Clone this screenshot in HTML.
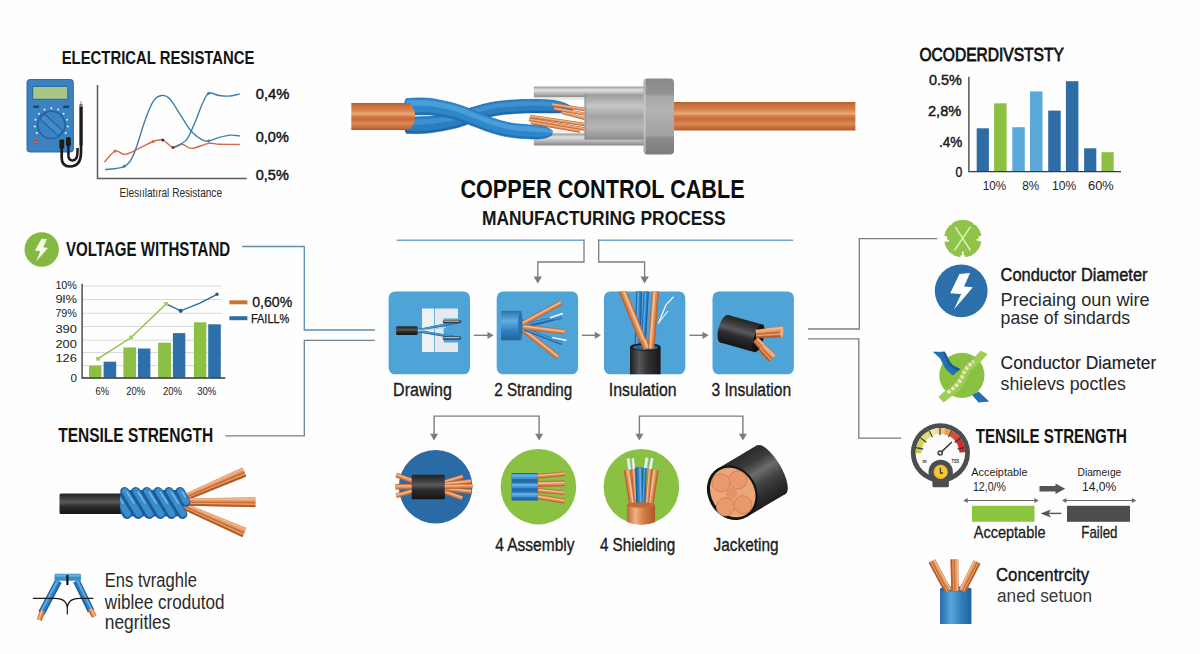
<!DOCTYPE html>
<html lang="en"><head><meta charset="utf-8"><title>Copper Control Cable Manufacturing Process</title>
<style>
html,body{margin:0;padding:0;background:#fefefe;}
body{width:1200px;height:654px;overflow:hidden;font-family:"Liberation Sans", sans-serif;}
svg{display:block;font-family:"Liberation Sans", sans-serif;}
</style></head><body>
<svg width="1200" height="654" viewBox="0 0 1200 654">
<rect width="1200" height="654" fill="#fefefe"/>
<defs>
<linearGradient id="cuV" x1="0" y1="0" x2="0" y2="1">
 <stop offset="0" stop-color="#b25e2e"/><stop offset="0.1" stop-color="#c9713f"/><stop offset="0.28" stop-color="#da834e"/>
 <stop offset="0.4" stop-color="#eca87b"/><stop offset="0.5" stop-color="#d57d48"/><stop offset="0.6" stop-color="#c56b39"/>
 <stop offset="0.76" stop-color="#dc8955"/><stop offset="0.9" stop-color="#c76d3a"/><stop offset="1" stop-color="#b05a2b"/>
</linearGradient>
<linearGradient id="cuH" x1="0" y1="0" x2="1" y2="0">
 <stop offset="0" stop-color="#b86a38"/><stop offset="0.3" stop-color="#f0b084"/>
 <stop offset="0.6" stop-color="#d47c45"/><stop offset="1" stop-color="#a9562a"/>
</linearGradient>
<linearGradient id="gySleeve" x1="0" y1="0" x2="0" y2="1">
 <stop offset="0" stop-color="#9b9b9b"/><stop offset="0.3" stop-color="#e2e2e2"/>
 <stop offset="0.65" stop-color="#b4b4b4"/><stop offset="1" stop-color="#868686"/>
</linearGradient>
<linearGradient id="gyBody" x1="0" y1="0" x2="0" y2="1">
 <stop offset="0" stop-color="#9c9c9c"/><stop offset="0.25" stop-color="#c6c6c6"/>
 <stop offset="0.48" stop-color="#a4a4a4"/><stop offset="0.72" stop-color="#b6b6b6"/><stop offset="1" stop-color="#8c8c8c"/>
</linearGradient>
<linearGradient id="gyFl" x1="0" y1="0" x2="0" y2="1">
 <stop offset="0" stop-color="#8a8a8a"/><stop offset="0.2" stop-color="#929292"/>
 <stop offset="0.23" stop-color="#a6a6a6"/><stop offset="0.4" stop-color="#b2b2b2"/><stop offset="0.74" stop-color="#a2a2a2"/>
 <stop offset="0.78" stop-color="#8c8c8c"/><stop offset="1" stop-color="#7c7c7c"/>
</linearGradient>
<linearGradient id="bkV" x1="0" y1="0" x2="0" y2="1">
 <stop offset="0" stop-color="#242424"/><stop offset="0.22" stop-color="#3a3a3c"/><stop offset="0.42" stop-color="#5a5a5c"/>
 <stop offset="0.62" stop-color="#2c2c2e"/><stop offset="1" stop-color="#151515"/>
</linearGradient>
<linearGradient id="bkH" x1="0" y1="0" x2="1" y2="0">
 <stop offset="0" stop-color="#1c1c1e"/><stop offset="0.3" stop-color="#58585a"/>
 <stop offset="0.6" stop-color="#303032"/><stop offset="1" stop-color="#18181a"/>
</linearGradient>
<linearGradient id="blH" x1="0" y1="0" x2="1" y2="0">
 <stop offset="0" stop-color="#246aa8"/><stop offset="0.35" stop-color="#5aa6da"/>
 <stop offset="0.7" stop-color="#2f7cbc"/><stop offset="1" stop-color="#22629c"/>
</linearGradient>
<linearGradient id="blV" x1="0" y1="0" x2="0" y2="1">
 <stop offset="0" stop-color="#2a72b2"/><stop offset="0.35" stop-color="#62ade0"/>
 <stop offset="0.7" stop-color="#2f7cbc"/><stop offset="1" stop-color="#22629c"/>
</linearGradient>
<linearGradient id="bkJ" x1="0" y1="0" x2="0" y2="1">
 <stop offset="0" stop-color="#2a2a2c"/><stop offset="0.22" stop-color="#3c3c3e"/><stop offset="0.42" stop-color="#6c6c6e"/>
 <stop offset="0.62" stop-color="#424244"/><stop offset="0.85" stop-color="#2a2a2c"/><stop offset="1" stop-color="#1e1e20"/>
</linearGradient>
<clipPath id="clipCoil"><rect x="120.3" y="480" width="70" height="50"/></clipPath>
<clipPath id="clipC3"><circle cx="641.2" cy="487.1" r="37.7"/></clipPath>
<clipPath id="clipS3"><rect x="603.9" y="291.4" width="82" height="82.9" rx="6"/></clipPath>
</defs>
<text x="61.7" y="63.6" font-size="18.4" font-weight="700" fill="#141414" text-anchor="start" textLength="192.7" lengthAdjust="spacingAndGlyphs">ELECTRICAL RESISTANCE</text>
<g>
<rect x="26.5" y="79" width="47.4" height="73.5" rx="4" fill="#2f6fab"/>
<rect x="27.6" y="80.1" width="45.2" height="71.3" rx="3.2" fill="#3c82c0"/>
<rect x="32.6" y="86.4" width="35.2" height="13" rx="0.8" fill="#a8c684" stroke="#2f6fa3" stroke-width="1.2"/>
<rect x="33.2" y="105.6" width="6" height="2.4" fill="#1c466e"/><rect x="63.2" y="105.6" width="6" height="2.4" fill="#1c466e"/>
<circle cx="36.9" cy="133.1" r="1.0" fill="#e8f2fa"/>
<circle cx="34.8" cy="126.5" r="1.0" fill="#e8f2fa"/>
<circle cx="35.5" cy="119.7" r="1.0" fill="#e8f2fa"/>
<circle cx="39.0" cy="113.7" r="1.0" fill="#e8f2fa"/>
<circle cx="44.5" cy="109.6" r="1.0" fill="#e8f2fa"/>
<circle cx="51.3" cy="108.2" r="1.0" fill="#e8f2fa"/>
<circle cx="58.1" cy="109.6" r="1.0" fill="#e8f2fa"/>
<circle cx="63.6" cy="113.7" r="1.0" fill="#e8f2fa"/>
<circle cx="67.1" cy="119.7" r="1.0" fill="#e8f2fa"/>
<circle cx="67.8" cy="126.5" r="1.0" fill="#e8f2fa"/>
<circle cx="65.7" cy="133.1" r="1.0" fill="#e8f2fa"/>
<circle cx="51.3" cy="124.8" r="14.4" fill="#24609b"/>
<circle cx="51.3" cy="124.8" r="12.9" fill="#3a84c4"/>
<rect x="38.6" y="121.4" width="25.4" height="6.8" rx="2" fill="#3f8bcb" stroke="#24609b" stroke-width="1.1" transform="rotate(43 51.3 124.8)"/>
<circle cx="35.3" cy="142" r="2" fill="#b5403a"/><circle cx="35.3" cy="142" r="0.9" fill="#e58a80"/>
<path d="M61.7,143 V158 Q61.7,166.5 70,166.5 Q81,166.5 81,152 V104" fill="none" stroke="#1b1b1b" stroke-width="2.7"/>
<path d="M68.4,141 V155 Q68.4,160.5 72.5,160.5 Q77.5,160.5 77.5,152 V148" fill="none" stroke="#1b1b1b" stroke-width="2.5"/>
<rect x="59.4" y="139.5" width="4.8" height="9" rx="1.2" fill="#1b1b1b"/><rect x="66" y="137.3" width="4.8" height="8.6" rx="1.2" fill="#1b1b1b"/>
<rect x="79.6" y="106" width="3" height="40" rx="1.2" fill="#1b1b1b"/><rect x="80.4" y="101" width="1.3" height="6" fill="#c8a28a"/>
</g>
<path d="M97.5,85 V178.6 H246.7" fill="none" stroke="#5a5a5a" stroke-width="1.5"/>
<path d="M104.4,162.1 C106.2,160.3 111.8,152.4 115.1,151.1 C118.4,149.8 121.1,154.4 124.2,154.4 C127.3,154.4 129.1,153.2 133.9,151.1 C138.7,148.9 148.3,143.3 153.1,141.5 C157.9,139.7 159.5,139.1 162.8,140.1 C166.1,141.1 169.8,146.8 173.0,147.5 C176.2,148.2 178.9,144.0 182.0,144.2 C185.1,144.3 187.2,148.5 191.7,148.4 C196.1,148.3 204.1,144.1 208.7,143.4 C213.3,142.7 214.0,144.0 219.2,144.2 C224.4,144.4 236.4,144.4 239.8,144.5" fill="none" stroke="#cf6a4c" stroke-width="1.4"/>
<path d="M105.0,169.6 C108.2,169.1 119.4,168.9 124.2,166.3 C129.0,163.7 130.5,161.5 133.9,153.9 C137.3,146.3 141.7,129.5 144.9,120.8 C148.1,112.1 150.3,105.8 153.1,101.6 C155.8,97.4 158.6,96.0 161.4,95.5 C164.2,95.0 166.5,95.5 169.7,98.8 C172.9,102.1 177.0,109.8 180.7,115.3 C184.4,120.8 188.0,127.7 191.7,131.8 C195.4,135.9 199.9,138.6 202.7,140.1 C205.5,141.6 205.9,141.3 208.7,140.9 C211.4,140.5 215.6,138.4 219.2,137.4 C222.8,136.4 226.8,135.3 230.2,135.1 C233.6,134.9 238.2,135.8 239.8,136.0" fill="none" stroke="#3f7fa8" stroke-width="1.4"/>
<path d="M173.0,147.5 C175.2,146.3 182.6,144.1 186.2,140.1 C189.8,136.1 191.7,129.8 194.4,123.6 C197.2,117.4 200.3,108.0 202.7,103.0 C205.1,98.0 205.9,94.5 208.7,93.3 C211.4,92.0 215.6,95.0 219.2,95.5 C222.8,96.0 226.8,96.3 230.2,96.0 C233.6,95.7 238.2,94.2 239.8,93.9" fill="none" stroke="#3f7fa8" stroke-width="1.4"/>
<circle cx="208.7" cy="93.3" r="1.5" fill="#3f7fa8"/>
<circle cx="208.7" cy="140.9" r="1.5" fill="#3f7fa8"/>
<circle cx="124.2" cy="166.3" r="1.5" fill="#3f7fa8"/>
<circle cx="115.1" cy="151.1" r="1.5" fill="#cf6a4c"/>
<circle cx="153.1" cy="141.5" r="1.5" fill="#cf6a4c"/>
<circle cx="173" cy="147.5" r="1.5" fill="#7a3a2a"/>
<circle cx="162.8" cy="140.1" r="1.5" fill="#3a2a2a"/>
<text x="255.8" y="98.8" font-size="14.2" font-weight="400" fill="#141414" text-anchor="start" textLength="33.6" lengthAdjust="spacingAndGlyphs" stroke="#141414" stroke-width="0.45">0,4%</text>
<text x="255.8" y="141.5" font-size="14.2" font-weight="400" fill="#141414" text-anchor="start" textLength="33.0" lengthAdjust="spacingAndGlyphs" stroke="#141414" stroke-width="0.45">0,0%</text>
<text x="255.8" y="180.0" font-size="14.2" font-weight="400" fill="#141414" text-anchor="start" textLength="33.0" lengthAdjust="spacingAndGlyphs" stroke="#141414" stroke-width="0.45">0,5%</text>
<text x="119.5" y="197.0" font-size="12.6" font-weight="400" fill="#2a2a2a" text-anchor="start" textLength="102.5" lengthAdjust="spacingAndGlyphs">Elesıılatıral Resistance</text>
<circle cx="41.7" cy="249.5" r="17.2" fill="#85b843"/>
<path d="M46.9,239.1 L41.5,238.8 L34.9,250.5 L40.2,251.2 L36.2,261.6 L47.9,247.9 L43.2,247.2 Z" fill="#f4fbe6"/>
<text x="65.9" y="255.5" font-size="19.3" font-weight="700" fill="#141414" text-anchor="start" textLength="164.3" lengthAdjust="spacingAndGlyphs">VOLTAGE WITHSTAND</text>
<line x1="82.1" y1="286" x2="222" y2="286" stroke="#d9d9d9" stroke-width="1"/>
<line x1="82.1" y1="299.5" x2="222" y2="299.5" stroke="#d9d9d9" stroke-width="1"/>
<line x1="82.1" y1="313.3" x2="222" y2="313.3" stroke="#d9d9d9" stroke-width="1"/>
<line x1="82.1" y1="326.5" x2="222" y2="326.5" stroke="#d9d9d9" stroke-width="1"/>
<line x1="82.1" y1="340.2" x2="222" y2="340.2" stroke="#d9d9d9" stroke-width="1"/>
<line x1="82.1" y1="352.6" x2="222" y2="352.6" stroke="#d9d9d9" stroke-width="1"/>
<line x1="82.1" y1="365.6" x2="222" y2="365.6" stroke="#d9d9d9" stroke-width="1"/>
<rect x="89" y="365.6" width="12.4" height="12.0" fill="#8bc045"/>
<rect x="103.6" y="361.7" width="12.6" height="15.9" fill="#2e6fa9"/>
<rect x="123.4" y="347.4" width="12.7" height="30.2" fill="#8bc045"/>
<rect x="138" y="348.5" width="12.4" height="29.1" fill="#2e6fa9"/>
<rect x="158.1" y="342.7" width="12.9" height="34.9" fill="#8bc045"/>
<rect x="172.9" y="333.1" width="12.4" height="44.5" fill="#2e6fa9"/>
<rect x="193.9" y="322.3" width="12.4" height="55.3" fill="#8bc045"/>
<rect x="208.2" y="324.3" width="12.6" height="53.3" fill="#2e6fa9"/>
<path d="M82.1,283.8 V378 H225.3" fill="none" stroke="#333" stroke-width="1.3"/>
<polyline points="98.1,358.7 131.1,337.5 166.1,303.9" fill="none" stroke="#8bc045" stroke-width="1.4" />
<polyline points="166.1,303.9 180.7,310.8 199.9,303.1 217.0,294.3" fill="none" stroke="#2a68a3" stroke-width="1.4" />
<rect x="96.19999999999999" y="356.8" width="3.8" height="3.8" fill="#9fcf58"/>
<rect x="129.2" y="335.6" width="3.8" height="3.8" fill="#9fcf58"/>
<rect x="164.2" y="302.0" width="3.8" height="3.8" fill="#9fcf58"/>
<circle cx="180.7" cy="310.8" r="2.1" fill="#1f5d99"/><circle cx="217" cy="294.3" r="1.7" fill="#1f5d99"/>
<text x="76.9" y="289.3" font-size="11.6" font-weight="400" fill="#222" text-anchor="end" textLength="21.5" lengthAdjust="spacingAndGlyphs">10%</text>
<text x="76.9" y="303.2" font-size="11.6" font-weight="400" fill="#222" text-anchor="end" textLength="21.5" lengthAdjust="spacingAndGlyphs">9l%</text>
<text x="76.9" y="317.4" font-size="11.6" font-weight="400" fill="#222" text-anchor="end" textLength="21.5" lengthAdjust="spacingAndGlyphs">79%</text>
<text x="76.9" y="332.8" font-size="11.6" font-weight="400" fill="#222" text-anchor="end" textLength="21.5" lengthAdjust="spacingAndGlyphs">390</text>
<text x="76.9" y="347.6" font-size="11.6" font-weight="400" fill="#222" text-anchor="end" textLength="21.5" lengthAdjust="spacingAndGlyphs">200</text>
<text x="76.9" y="362.2" font-size="11.6" font-weight="400" fill="#222" text-anchor="end" textLength="21.5" lengthAdjust="spacingAndGlyphs">126</text>
<text x="76.9" y="381.6" font-size="11.6" font-weight="400" fill="#222" text-anchor="end">0</text>
<text x="102.2" y="394.5" font-size="11.6" font-weight="400" fill="#222" text-anchor="middle" textLength="13.5" lengthAdjust="spacingAndGlyphs">6%</text>
<text x="135.8" y="394.5" font-size="11.6" font-weight="400" fill="#222" text-anchor="middle" textLength="19.0" lengthAdjust="spacingAndGlyphs">20%</text>
<text x="172.4" y="394.5" font-size="11.6" font-weight="400" fill="#222" text-anchor="middle" textLength="19.0" lengthAdjust="spacingAndGlyphs">20%</text>
<text x="206.8" y="394.5" font-size="11.6" font-weight="400" fill="#222" text-anchor="middle" textLength="19.0" lengthAdjust="spacingAndGlyphs">30%</text>
<rect x="229.4" y="300.3" width="18" height="4" fill="#c87439"/>
<rect x="229.4" y="316.2" width="18" height="4" fill="#2e6fa9"/>
<text x="252.2" y="307.2" font-size="14.6" font-weight="400" fill="#141414" text-anchor="start" textLength="40.0" lengthAdjust="spacingAndGlyphs" stroke="#141414" stroke-width="0.3">0,60%</text>
<text x="250.9" y="323.2" font-size="12.8" font-weight="400" fill="#141414" text-anchor="start" textLength="38.5" lengthAdjust="spacingAndGlyphs" stroke="#141414" stroke-width="0.25">FAILL%</text>
<path d="M242.2,246.5 H304.3 V330 H373.5" fill="none" stroke="#5c8fb3" stroke-width="1.3"/>
<path d="M225.3,435.8 H304.3 V340.4 H373.5" fill="none" stroke="#6a8396" stroke-width="1.3"/>
<text x="58.2" y="442.2" font-size="19.3" font-weight="700" fill="#141414" text-anchor="start" textLength="154.9" lengthAdjust="spacingAndGlyphs">TENSILE STRENGTH</text>
<path d="M178.7,496.5 L242.4,467.4 L246.4,476.6 L181.3,502.5 Z" fill="#d9824a"/>
<line x1="181.7" y1="496.4" x2="243.1" y2="469.0" stroke="#f1b58c" stroke-width="2.2"/>
<line x1="182.2" y1="497.6" x2="243.9" y2="470.8" stroke="#e99c69" stroke-width="2.0"/>
<line x1="182.7" y1="498.7" x2="244.6" y2="472.5" stroke="#c56e38" stroke-width="2.0"/>
<line x1="183.2" y1="499.8" x2="245.3" y2="474.1" stroke="#eaa06e" stroke-width="1.8"/>
<line x1="183.6" y1="500.7" x2="245.9" y2="475.5" stroke="#b15d2b" stroke-width="2.0"/>
<path d="M181.3,501.5 L246.4,528.0 L242.4,537.2 L178.7,507.5 Z" fill="#d9824a"/>
<line x1="183.4" y1="503.7" x2="245.7" y2="529.6" stroke="#f1b58c" stroke-width="2.2"/>
<line x1="182.9" y1="504.8" x2="244.9" y2="531.4" stroke="#e99c69" stroke-width="2.0"/>
<line x1="182.4" y1="506.0" x2="244.2" y2="533.1" stroke="#c56e38" stroke-width="2.0"/>
<line x1="182.0" y1="507.0" x2="243.5" y2="534.7" stroke="#eaa06e" stroke-width="1.8"/>
<line x1="181.6" y1="507.9" x2="242.9" y2="536.1" stroke="#b15d2b" stroke-width="2.0"/>
<path d="M180.0,498.5 L255.4,497.2 L255.4,507.2 L180.0,505.5 Z" fill="#d9824a"/>
<line x1="183.0" y1="499.7" x2="255.4" y2="499.0" stroke="#f1b58c" stroke-width="2.2"/>
<line x1="183.0" y1="501.0" x2="255.4" y2="500.9" stroke="#e99c69" stroke-width="2.0"/>
<line x1="183.0" y1="502.4" x2="255.4" y2="502.7" stroke="#c56e38" stroke-width="2.0"/>
<line x1="183.0" y1="503.6" x2="255.4" y2="504.4" stroke="#eaa06e" stroke-width="1.8"/>
<line x1="183.0" y1="504.7" x2="255.4" y2="506.0" stroke="#b15d2b" stroke-width="2.0"/>
<rect x="59.5" y="493.4" width="66" height="20.6" rx="1.5" fill="url(#bkV)"/>
<g clip-path="url(#clipCoil)">
<rect x="121" y="490" width="62" height="26.5" rx="6" fill="#1f64a2"/>
<line x1="113.5" y1="491.8" x2="127.1" y2="514.2" stroke="#1c5c98" stroke-width="9.6" stroke-linecap="round"/>
<line x1="114.0" y1="491.4" x2="127.6" y2="513.8000000000001" stroke="#3a8cca" stroke-width="6.6" stroke-linecap="round"/>
<line x1="115.9" y1="492" x2="122.7" y2="503.1" stroke="#79bdea" stroke-width="1.6" stroke-linecap="round" opacity="0.9"/>
<line x1="124.6" y1="491.8" x2="138.2" y2="514.2" stroke="#1c5c98" stroke-width="9.6" stroke-linecap="round"/>
<line x1="125.1" y1="491.4" x2="138.7" y2="513.8000000000001" stroke="#3a8cca" stroke-width="6.6" stroke-linecap="round"/>
<line x1="127.0" y1="492" x2="133.8" y2="503.1" stroke="#79bdea" stroke-width="1.6" stroke-linecap="round" opacity="0.9"/>
<line x1="135.7" y1="491.8" x2="149.3" y2="514.2" stroke="#1c5c98" stroke-width="9.6" stroke-linecap="round"/>
<line x1="136.2" y1="491.4" x2="149.8" y2="513.8000000000001" stroke="#3a8cca" stroke-width="6.6" stroke-linecap="round"/>
<line x1="138.1" y1="492" x2="144.9" y2="503.1" stroke="#79bdea" stroke-width="1.6" stroke-linecap="round" opacity="0.9"/>
<line x1="146.8" y1="491.8" x2="160.4" y2="514.2" stroke="#1c5c98" stroke-width="9.6" stroke-linecap="round"/>
<line x1="147.3" y1="491.4" x2="160.9" y2="513.8000000000001" stroke="#3a8cca" stroke-width="6.6" stroke-linecap="round"/>
<line x1="149.2" y1="492" x2="156.0" y2="503.1" stroke="#79bdea" stroke-width="1.6" stroke-linecap="round" opacity="0.9"/>
<line x1="157.9" y1="491.8" x2="171.5" y2="514.2" stroke="#1c5c98" stroke-width="9.6" stroke-linecap="round"/>
<line x1="158.4" y1="491.4" x2="172.0" y2="513.8000000000001" stroke="#3a8cca" stroke-width="6.6" stroke-linecap="round"/>
<line x1="160.3" y1="492" x2="167.1" y2="503.1" stroke="#79bdea" stroke-width="1.6" stroke-linecap="round" opacity="0.9"/>
<line x1="169.0" y1="491.8" x2="182.6" y2="514.2" stroke="#1c5c98" stroke-width="9.6" stroke-linecap="round"/>
<line x1="169.5" y1="491.4" x2="183.1" y2="513.8000000000001" stroke="#3a8cca" stroke-width="6.6" stroke-linecap="round"/>
<line x1="171.4" y1="492" x2="178.2" y2="503.1" stroke="#79bdea" stroke-width="1.6" stroke-linecap="round" opacity="0.9"/>
<line x1="180.1" y1="491.8" x2="185.6" y2="502" stroke="#1c5c98" stroke-width="9.6" stroke-linecap="round"/>
<line x1="180.6" y1="491.4" x2="186.1" y2="501.6" stroke="#3a8cca" stroke-width="6.6" stroke-linecap="round"/>
<line x1="182.5" y1="492" x2="185.2" y2="497.0" stroke="#79bdea" stroke-width="1.6" stroke-linecap="round" opacity="0.9"/>
</g>
<line x1="58.5" y1="581.0" x2="41.5" y2="613.0" stroke="#1c5f9f" stroke-width="7.0" stroke-linecap="butt"/>
<line x1="58.2" y1="580.8" x2="41.2" y2="612.8" stroke="#2f80c4" stroke-width="4.6" stroke-linecap="butt"/>
<line x1="57.6" y1="580.5" x2="40.6" y2="612.5" stroke="#62aee2" stroke-width="1.7" stroke-linecap="butt"/>
<line x1="76.5" y1="581.0" x2="91.0" y2="611.0" stroke="#1c5f9f" stroke-width="7.0" stroke-linecap="butt"/>
<line x1="76.9" y1="580.8" x2="91.4" y2="610.8" stroke="#2f80c4" stroke-width="4.6" stroke-linecap="butt"/>
<line x1="77.4" y1="580.6" x2="91.9" y2="610.6" stroke="#62aee2" stroke-width="1.7" stroke-linecap="butt"/>
<line x1="42.6" y1="611.0" x2="39.3" y2="620.0" stroke="#ba6633" stroke-width="5.2" stroke-linecap="butt"/>
<line x1="42.3" y1="610.9" x2="39.0" y2="619.9" stroke="#df8c57" stroke-width="3.4" stroke-linecap="butt"/>
<line x1="41.9" y1="610.7" x2="38.6" y2="619.7" stroke="#f5c09a" stroke-width="1.2" stroke-linecap="butt"/>
<line x1="90.0" y1="609.0" x2="94.3" y2="616.5" stroke="#ba6633" stroke-width="5.2" stroke-linecap="butt"/>
<line x1="90.3" y1="608.9" x2="94.6" y2="616.4" stroke="#df8c57" stroke-width="3.4" stroke-linecap="butt"/>
<line x1="90.6" y1="608.6" x2="94.9" y2="616.1" stroke="#f5c09a" stroke-width="1.2" stroke-linecap="butt"/>
<rect x="54.5" y="573.8" width="26.5" height="7" rx="1.2" fill="#3b8fca"/><rect x="54.5" y="574.6" width="26.5" height="2" fill="#7cbce6" opacity="0.8"/>
<rect x="66.3" y="575" width="2.2" height="10" fill="#111"/>
<path d="M32.9,598.3 H55 Q67.3,598.3 67.3,609 Q67.3,598.3 79.5,598.3 H93.3 M67.3,606 V614.5" fill="none" stroke="#1a1a1a" stroke-width="1.2"/>
<text x="104.8" y="586.9" font-size="19.4" font-weight="400" fill="#2b2b2b" text-anchor="start" textLength="92.1" lengthAdjust="spacingAndGlyphs">Ens tvraghle</text>
<text x="104.8" y="608.8" font-size="19.4" font-weight="400" fill="#2b2b2b" text-anchor="start" textLength="119.8" lengthAdjust="spacingAndGlyphs">wiblee crodutod</text>
<text x="104.8" y="628.5" font-size="19.4" font-weight="400" fill="#2b2b2b" text-anchor="start" textLength="65.6" lengthAdjust="spacingAndGlyphs">negritles</text>
<rect x="672" y="102" width="183.4" height="28.5" fill="url(#cuV)"/>
<rect x="351.3" y="103" width="54" height="27" fill="url(#cuV)"/>
<rect x="533.8" y="86.6" width="110.5" height="11" rx="0.8" fill="url(#gySleeve)"/>
<rect x="533.8" y="97.2" width="51" height="2.6" fill="#e6e6e6"/>
<rect x="533.8" y="130.6" width="51" height="3.4" fill="#eeeeee"/>
<rect x="533.8" y="133.6" width="110.5" height="12" rx="0.8" fill="url(#gySleeve)"/>
<rect x="584.5" y="94.5" width="60" height="45.2" fill="url(#gyBody)"/>
<rect x="584.5" y="94.5" width="1.8" height="45.2" fill="#8a8a8a" opacity="0.6"/>
<rect x="643.6" y="78.6" width="30.4" height="76" rx="4" fill="url(#gyFl)"/>
<rect x="643.6" y="80" width="2.2" height="73" rx="1" fill="#d2d2d2" opacity="0.6"/>
<ellipse cx="406.8" cy="125.2" rx="2.8" ry="8.2" fill="#1c62a3"/>
<path d="M406.7,117.0 L407.5,117.0 L408.5,117.0 L409.7,117.0 L411.0,117.0 L412.4,117.0 L413.9,116.9 L415.4,116.9 L416.9,116.9 L418.3,116.8 L419.7,116.8 L421.0,116.8 L422.4,116.7 L423.7,116.7 L425.1,116.7 L426.4,116.6 L427.8,116.6 L429.2,116.5 L430.7,116.4 L432.2,116.2 L433.9,116.1 L435.8,115.9 L437.8,115.6 L439.9,115.4 L442.1,115.1 L444.3,114.8 L446.5,114.5 L448.7,114.1 L450.8,113.8 L452.8,113.4 L454.7,113.0 L456.4,112.6 L458.0,112.2 L459.5,111.7 L461.1,111.2 L462.7,110.6 L464.4,110.0 L466.1,109.4 L468.0,108.7 L469.9,108.1 L472.0,107.5 L473.9,106.9 L475.9,106.4 L477.9,105.8 L480.0,105.2 L482.1,104.6 L484.3,104.0 L486.6,103.4 L488.9,102.9 L491.4,102.4 L493.9,102.0 L496.4,101.6 L499.1,101.3 L501.7,100.9 L504.5,100.7 L507.2,100.4 L510.0,100.2 L512.8,100.0 L515.6,99.9 L518.3,99.7 L521.0,99.6 L523.8,99.5 L526.6,99.5 L529.5,99.4 L532.3,99.4 L535.2,99.5 L537.9,99.5 L540.6,99.6 L543.2,99.7 L545.5,99.8 L547.7,99.9 L549.7,100.1 L551.6,100.2 L553.3,100.4 L554.8,100.6 L556.3,100.9 L557.7,101.1 L559.0,101.4 L560.2,101.7 L561.4,102.1 L562.6,102.4 L563.9,102.9 L565.2,103.4 L566.5,104.0 L567.7,104.6 L568.8,105.2 L569.8,105.8 L570.7,106.4 L571.6,106.9 L572.3,107.3 L572.8,107.6 L572.2,111.2 L571.5,111.3 L570.7,111.4 L569.7,111.6 L568.7,111.7 L567.5,111.9 L566.3,112.1 L565.1,112.3 L563.8,112.5 L562.6,112.6 L561.4,112.8 L560.1,112.8 L558.9,112.9 L557.7,112.9 L556.4,112.9 L555.2,112.9 L553.8,112.9 L552.4,112.9 L550.9,112.9 L549.2,112.9 L547.3,112.9 L545.2,112.9 L542.9,112.9 L540.4,112.9 L537.8,112.9 L535.1,112.9 L532.4,112.9 L529.6,112.9 L526.9,113.0 L524.2,113.1 L521.6,113.2 L519.0,113.3 L516.4,113.5 L513.7,113.7 L511.1,113.9 L508.4,114.1 L505.8,114.3 L503.3,114.6 L500.8,114.9 L498.4,115.2 L496.1,115.6 L494.0,116.0 L491.9,116.4 L489.8,116.9 L487.8,117.4 L485.8,118.0 L483.8,118.5 L481.8,119.1 L479.9,119.7 L477.9,120.3 L476.0,120.9 L474.3,121.5 L472.7,122.1 L471.1,122.7 L469.5,123.3 L467.8,124.0 L466.1,124.7 L464.3,125.4 L462.4,126.1 L460.4,126.7 L458.3,127.4 L456.1,127.9 L453.9,128.5 L451.6,129.0 L449.2,129.5 L446.9,130.0 L444.6,130.4 L442.3,130.9 L440.1,131.2 L438.0,131.6 L436.1,131.9 L434.2,132.2 L432.4,132.5 L430.8,132.7 L429.1,132.9 L427.6,133.1 L426.1,133.2 L424.6,133.3 L423.2,133.4 L421.8,133.5 L420.3,133.6 L418.8,133.6 L417.1,133.7 L415.5,133.7 L413.8,133.6 L412.3,133.6 L410.8,133.6 L409.5,133.5 L408.3,133.5 L407.3,133.4 L406.5,133.4 Z" fill="#1d67aa" stroke="#1d67aa" stroke-width="0.6" stroke-linejoin="round"/>
<path d="M406.7,117.5 L407.5,117.5 L408.5,117.5 L409.7,117.5 L411.0,117.5 L412.4,117.4 L413.9,117.4 L415.4,117.4 L416.9,117.4 L418.3,117.4 L419.7,117.3 L421.1,117.3 L422.4,117.2 L423.8,117.2 L425.1,117.2 L426.4,117.1 L427.8,117.0 L429.2,117.0 L430.7,116.9 L432.3,116.7 L434.0,116.5 L435.9,116.3 L437.9,116.1 L440.0,115.8 L442.2,115.6 L444.4,115.3 L446.6,114.9 L448.8,114.6 L450.9,114.2 L452.9,113.8 L454.8,113.5 L456.5,113.0 L458.1,112.6 L459.7,112.1 L461.3,111.6 L462.9,111.0 L464.5,110.4 L466.3,109.8 L468.1,109.1 L470.1,108.5 L472.1,107.9 L474.1,107.3 L476.0,106.8 L478.0,106.2 L480.1,105.6 L482.2,105.0 L484.4,104.4 L486.7,103.9 L489.0,103.3 L491.5,102.8 L493.9,102.4 L496.5,102.0 L499.1,101.7 L501.8,101.4 L504.5,101.1 L507.3,100.8 L510.0,100.6 L512.8,100.4 L515.6,100.3 L518.3,100.1 L521.0,100.0 L523.8,99.9 L526.6,99.9 L529.5,99.8 L532.3,99.8 L535.2,99.9 L537.9,99.9 L540.6,100.0 L543.1,100.1 L545.5,100.2 L547.7,100.3 L549.7,100.4 L551.5,100.6 L553.2,100.8 L554.8,101.0 L556.3,101.2 L557.6,101.5 L558.9,101.8 L560.2,102.1 L561.4,102.4 L562.6,102.8 L563.9,103.2 L565.2,103.7 L566.4,104.2 L567.6,104.8 L568.7,105.4 L569.8,106.0 L570.7,106.5 L571.5,107.0 L572.2,107.4 L572.8,107.7 L572.3,110.6 L571.6,110.6 L570.8,110.6 L569.9,110.7 L568.9,110.7 L567.7,110.8 L566.6,110.9 L565.3,110.9 L564.1,111.0 L562.8,111.0 L561.6,111.0 L560.3,111.0 L559.1,111.0 L557.9,110.9 L556.6,110.9 L555.4,110.9 L554.0,110.8 L552.6,110.8 L551.0,110.7 L549.3,110.7 L547.4,110.7 L545.2,110.7 L542.9,110.7 L540.4,110.6 L537.8,110.6 L535.1,110.6 L532.4,110.6 L529.6,110.6 L526.8,110.7 L524.1,110.8 L521.5,110.9 L518.9,111.0 L516.2,111.2 L513.6,111.4 L510.9,111.6 L508.2,111.8 L505.6,112.0 L503.0,112.3 L500.5,112.6 L498.1,112.9 L495.7,113.3 L493.5,113.7 L491.4,114.1 L489.3,114.6 L487.2,115.1 L485.2,115.7 L483.2,116.3 L481.2,116.8 L479.2,117.4 L477.3,118.0 L475.3,118.6 L473.6,119.2 L471.9,119.8 L470.3,120.4 L468.6,121.1 L467.0,121.7 L465.3,122.4 L463.5,123.1 L461.7,123.7 L459.7,124.3 L457.7,124.9 L455.6,125.5 L453.4,126.0 L451.1,126.5 L448.8,127.0 L446.4,127.4 L444.1,127.8 L441.9,128.2 L439.7,128.6 L437.6,128.9 L435.7,129.2 L433.9,129.5 L432.1,129.7 L430.5,129.9 L428.9,130.1 L427.4,130.3 L425.9,130.4 L424.5,130.5 L423.1,130.6 L421.6,130.7 L420.2,130.7 L418.7,130.8 L417.1,130.8 L415.5,130.8 L413.9,130.8 L412.3,130.8 L410.8,130.7 L409.5,130.7 L408.3,130.7 L407.3,130.6 L406.6,130.6 Z" fill="#2a7dc0" stroke="#2a7dc0" stroke-width="0.6" stroke-linejoin="round"/>
<path d="M406.6,119.5 L407.5,119.5 L408.5,119.5 L409.7,119.5 L411.0,119.5 L412.4,119.4 L413.9,119.4 L415.4,119.4 L416.9,119.4 L418.4,119.4 L419.8,119.3 L421.2,119.3 L422.5,119.2 L423.9,119.2 L425.2,119.1 L426.6,119.1 L428.0,119.0 L429.4,118.9 L430.9,118.8 L432.5,118.6 L434.3,118.5 L436.1,118.2 L438.1,118.0 L440.3,117.7 L442.5,117.4 L444.7,117.1 L446.9,116.7 L449.1,116.4 L451.3,116.0 L453.3,115.6 L455.2,115.2 L457.0,114.7 L458.6,114.3 L460.3,113.8 L461.9,113.2 L463.5,112.6 L465.2,112.0 L466.9,111.4 L468.7,110.7 L470.6,110.1 L472.6,109.5 L474.5,108.9 L476.5,108.4 L478.5,107.8 L480.6,107.2 L482.7,106.6 L484.8,106.0 L487.1,105.5 L489.4,104.9 L491.8,104.5 L494.2,104.0 L496.7,103.7 L499.3,103.3 L502.0,103.0 L504.7,102.7 L507.4,102.5 L510.2,102.3 L512.9,102.1 L515.7,101.9 L518.4,101.8 L521.1,101.6 L523.8,101.6 L526.6,101.5 L529.5,101.5 L532.3,101.4 L535.2,101.5 L537.9,101.5 L540.6,101.6 L543.1,101.6 L545.5,101.7 L547.6,101.9 L549.6,102.0 L551.5,102.1 L553.1,102.3 L554.7,102.5 L556.1,102.7 L557.5,102.9 L558.8,103.1 L560.0,103.4 L561.2,103.7 L562.5,104.0 L563.7,104.3 L565.0,104.8 L566.3,105.2 L567.5,105.7 L568.6,106.2 L569.6,106.7 L570.6,107.2 L571.4,107.6 L572.2,107.9 L572.7,108.2 L572.5,109.2 L571.9,109.1 L571.2,108.9 L570.3,108.7 L569.3,108.5 L568.2,108.2 L567.1,108.0 L565.8,107.7 L564.6,107.5 L563.3,107.3 L562.1,107.1 L560.8,106.9 L559.6,106.7 L558.4,106.6 L557.1,106.4 L555.8,106.3 L554.4,106.2 L552.9,106.0 L551.2,105.9 L549.5,105.8 L547.5,105.8 L545.4,105.7 L543.0,105.6 L540.5,105.6 L537.9,105.5 L535.1,105.5 L532.3,105.5 L529.5,105.5 L526.7,105.6 L524.0,105.6 L521.3,105.7 L518.6,105.8 L515.9,106.0 L513.2,106.2 L510.5,106.4 L507.8,106.6 L505.1,106.8 L502.4,107.1 L499.8,107.4 L497.3,107.7 L494.9,108.1 L492.5,108.5 L490.3,109.0 L488.0,109.5 L485.9,110.0 L483.8,110.6 L481.7,111.2 L479.7,111.8 L477.7,112.4 L475.7,113.0 L473.8,113.5 L471.9,114.1 L470.1,114.7 L468.4,115.4 L466.7,116.0 L465.0,116.6 L463.4,117.3 L461.7,117.9 L460.0,118.4 L458.2,119.0 L456.3,119.5 L454.3,120.0 L452.2,120.4 L450.0,120.8 L447.7,121.3 L445.5,121.6 L443.2,122.0 L441.0,122.3 L438.8,122.7 L436.8,122.9 L434.9,123.2 L433.1,123.4 L431.5,123.6 L429.9,123.8 L428.4,123.9 L426.9,124.0 L425.5,124.1 L424.1,124.2 L422.8,124.2 L421.4,124.3 L420.0,124.4 L418.5,124.4 L417.0,124.4 L415.4,124.5 L413.9,124.5 L412.4,124.4 L410.9,124.4 L409.6,124.4 L408.4,124.4 L407.4,124.4 L406.6,124.4 Z" fill="#3f90d0" stroke="#3f90d0" stroke-width="0.6" stroke-linejoin="round"/>
<line x1="552.0" y1="104.5" x2="584.5" y2="109.5" stroke="#ba6633" stroke-width="3.3" stroke-linecap="butt"/>
<line x1="552.0" y1="104.3" x2="584.5" y2="109.3" stroke="#df8c57" stroke-width="2.2" stroke-linecap="butt"/>
<line x1="552.1" y1="104.0" x2="584.6" y2="109.0" stroke="#f5c09a" stroke-width="0.8" stroke-linecap="butt"/>
<line x1="554.0" y1="108.5" x2="584.5" y2="114.0" stroke="#ba6633" stroke-width="3.3" stroke-linecap="butt"/>
<line x1="554.0" y1="108.3" x2="584.5" y2="113.8" stroke="#df8c57" stroke-width="2.2" stroke-linecap="butt"/>
<line x1="554.1" y1="108.0" x2="584.6" y2="113.5" stroke="#f5c09a" stroke-width="0.8" stroke-linecap="butt"/>
<line x1="530.0" y1="116.5" x2="584.5" y2="124.5" stroke="#ba6633" stroke-width="3.3" stroke-linecap="butt"/>
<line x1="530.0" y1="116.3" x2="584.5" y2="124.3" stroke="#df8c57" stroke-width="2.2" stroke-linecap="butt"/>
<line x1="530.1" y1="116.0" x2="584.6" y2="124.0" stroke="#f5c09a" stroke-width="0.8" stroke-linecap="butt"/>
<line x1="529.0" y1="119.5" x2="584.5" y2="129.0" stroke="#ba6633" stroke-width="3.3" stroke-linecap="butt"/>
<line x1="529.0" y1="119.3" x2="584.5" y2="128.8" stroke="#df8c57" stroke-width="2.2" stroke-linecap="butt"/>
<line x1="529.1" y1="119.0" x2="584.6" y2="128.5" stroke="#f5c09a" stroke-width="0.8" stroke-linecap="butt"/>
<line x1="531.0" y1="122.5" x2="580.0" y2="131.0" stroke="#ba6633" stroke-width="3.3" stroke-linecap="butt"/>
<line x1="531.0" y1="122.3" x2="580.0" y2="130.8" stroke="#df8c57" stroke-width="2.2" stroke-linecap="butt"/>
<line x1="531.1" y1="122.0" x2="580.1" y2="130.5" stroke="#f5c09a" stroke-width="0.8" stroke-linecap="butt"/>
<line x1="562.0" y1="112.5" x2="584.5" y2="118.5" stroke="#ba6633" stroke-width="3.3" stroke-linecap="butt"/>
<line x1="562.0" y1="112.3" x2="584.5" y2="118.3" stroke="#df8c57" stroke-width="2.2" stroke-linecap="butt"/>
<line x1="562.1" y1="112.1" x2="584.6" y2="118.1" stroke="#f5c09a" stroke-width="0.8" stroke-linecap="butt"/>
<ellipse cx="406.8" cy="106.8" rx="2.8" ry="8.2" fill="#1f6bb0"/>
<path d="M406.3,98.6 L407.1,98.6 L408.0,98.5 L409.2,98.4 L410.6,98.3 L412.1,98.2 L413.7,98.1 L415.3,98.0 L416.9,97.9 L418.6,97.9 L420.1,97.9 L421.4,97.9 L422.6,97.9 L423.9,98.0 L425.2,98.0 L426.6,98.1 L428.1,98.2 L429.7,98.3 L431.3,98.5 L433.1,98.8 L435.0,99.1 L437.0,99.5 L439.2,99.9 L441.5,100.3 L443.8,100.9 L446.3,101.4 L448.8,102.0 L451.3,102.6 L453.8,103.3 L456.2,104.0 L458.6,104.7 L461.0,105.5 L463.4,106.3 L465.7,107.2 L467.9,108.1 L470.1,109.0 L472.2,109.9 L474.3,110.8 L476.3,111.6 L478.2,112.4 L480.1,113.2 L482.0,113.9 L483.8,114.6 L485.6,115.3 L487.4,116.0 L489.0,116.7 L490.7,117.3 L492.3,117.9 L493.9,118.5 L495.5,119.0 L497.1,119.5 L498.7,120.0 L500.3,120.5 L501.9,120.9 L503.5,121.3 L505.1,121.7 L506.7,122.1 L508.3,122.4 L509.9,122.8 L511.7,123.1 L513.5,123.4 L515.4,123.6 L517.6,123.9 L519.9,124.1 L522.2,124.3 L524.6,124.5 L527.0,124.7 L529.4,124.9 L531.6,125.0 L533.6,125.2 L535.4,125.4 L537.0,125.6 L538.3,125.8 L539.6,125.9 L540.7,126.1 L541.7,126.3 L542.6,126.5 L543.5,126.6 L544.4,126.8 L545.3,127.1 L546.2,127.3 L547.0,127.6 L547.8,127.9 L548.5,128.3 L549.2,128.7 L549.8,129.1 L550.4,129.5 L550.9,129.8 L551.3,130.1 L551.7,130.4 L552.1,130.6 L551.9,135.0 L551.6,135.2 L551.2,135.4 L550.7,135.7 L550.2,136.0 L549.6,136.4 L548.9,136.7 L548.2,137.1 L547.5,137.4 L546.7,137.7 L545.8,137.9 L545.0,138.1 L544.2,138.3 L543.3,138.4 L542.4,138.6 L541.4,138.7 L540.3,138.8 L539.0,138.9 L537.7,139.0 L536.2,139.0 L534.6,139.0 L532.8,139.0 L530.7,138.9 L528.5,138.8 L526.1,138.7 L523.7,138.5 L521.1,138.4 L518.6,138.2 L516.2,138.0 L513.8,137.7 L511.5,137.4 L509.4,137.1 L507.4,136.8 L505.5,136.4 L503.6,136.1 L501.8,135.7 L500.0,135.2 L498.2,134.8 L496.5,134.3 L494.7,133.8 L492.9,133.3 L491.1,132.7 L489.2,132.1 L487.4,131.5 L485.7,130.9 L483.9,130.2 L482.1,129.5 L480.4,128.9 L478.6,128.2 L476.8,127.5 L474.9,126.8 L472.9,126.1 L470.8,125.3 L468.7,124.4 L466.6,123.6 L464.5,122.8 L462.5,122.0 L460.4,121.2 L458.4,120.5 L456.3,119.9 L454.4,119.3 L452.3,118.8 L450.1,118.2 L447.8,117.8 L445.5,117.3 L443.1,116.9 L440.8,116.5 L438.6,116.1 L436.4,115.8 L434.4,115.5 L432.6,115.3 L431.0,115.1 L429.6,115.0 L428.3,114.9 L427.1,114.9 L426.0,114.9 L424.9,114.9 L423.8,114.9 L422.6,114.9 L421.3,114.9 L419.9,114.9 L418.6,114.9 L417.2,114.9 L415.8,114.9 L414.3,114.9 L412.8,114.9 L411.3,114.9 L410.0,115.0 L408.8,115.0 L407.7,115.0 L406.9,115.0 Z" fill="#2170b5" stroke="#2170b5" stroke-width="0.6" stroke-linejoin="round"/>
<path d="M406.3,99.1 L407.1,99.0 L408.1,99.0 L409.3,98.9 L410.6,98.8 L412.1,98.7 L413.7,98.6 L415.3,98.5 L416.9,98.4 L418.6,98.4 L420.1,98.4 L421.4,98.4 L422.6,98.4 L423.9,98.5 L425.2,98.5 L426.6,98.6 L428.1,98.7 L429.6,98.8 L431.3,99.0 L433.1,99.3 L434.9,99.6 L437.0,99.9 L439.1,100.4 L441.4,100.8 L443.7,101.3 L446.2,101.9 L448.7,102.5 L451.2,103.1 L453.7,103.7 L456.1,104.4 L458.5,105.1 L460.9,105.9 L463.2,106.8 L465.5,107.6 L467.8,108.5 L469.9,109.4 L472.1,110.3 L474.1,111.2 L476.1,112.1 L478.1,112.8 L479.9,113.6 L481.8,114.3 L483.7,115.0 L485.5,115.8 L487.2,116.4 L488.9,117.1 L490.5,117.7 L492.1,118.3 L493.7,118.9 L495.3,119.4 L497.0,119.9 L498.6,120.4 L500.2,120.9 L501.8,121.3 L503.4,121.7 L505.0,122.1 L506.6,122.5 L508.2,122.9 L509.9,123.2 L511.6,123.5 L513.4,123.8 L515.4,124.1 L517.5,124.3 L519.8,124.5 L522.2,124.7 L524.6,124.9 L527.0,125.1 L529.3,125.3 L531.5,125.5 L533.6,125.6 L535.4,125.8 L536.9,126.0 L538.3,126.2 L539.5,126.3 L540.7,126.5 L541.7,126.7 L542.6,126.8 L543.5,127.0 L544.4,127.2 L545.3,127.4 L546.2,127.6 L547.0,127.9 L547.8,128.2 L548.5,128.6 L549.2,128.9 L549.8,129.3 L550.4,129.6 L550.9,130.0 L551.3,130.3 L551.7,130.5 L552.1,130.7 L552.0,134.3 L551.6,134.4 L551.2,134.5 L550.7,134.7 L550.2,134.9 L549.6,135.1 L549.0,135.4 L548.3,135.6 L547.5,135.8 L546.7,136.0 L545.9,136.1 L545.1,136.2 L544.2,136.3 L543.4,136.4 L542.4,136.5 L541.4,136.6 L540.3,136.7 L539.1,136.7 L537.8,136.7 L536.3,136.7 L534.7,136.7 L532.9,136.6 L530.9,136.5 L528.7,136.4 L526.3,136.3 L523.8,136.2 L521.3,136.0 L518.8,135.8 L516.4,135.6 L514.0,135.3 L511.8,135.0 L509.8,134.7 L507.8,134.4 L506.0,134.1 L504.1,133.7 L502.4,133.3 L500.6,132.9 L498.9,132.4 L497.1,132.0 L495.4,131.5 L493.6,131.0 L491.8,130.4 L490.0,129.8 L488.3,129.2 L486.5,128.6 L484.8,127.9 L483.0,127.3 L481.3,126.6 L479.5,125.9 L477.7,125.2 L475.8,124.5 L473.8,123.7 L471.7,122.9 L469.7,122.1 L467.6,121.3 L465.5,120.4 L463.4,119.6 L461.3,118.8 L459.2,118.1 L457.1,117.4 L455.1,116.8 L452.9,116.2 L450.7,115.7 L448.4,115.2 L446.0,114.7 L443.7,114.3 L441.3,113.8 L439.1,113.5 L436.9,113.1 L434.9,112.8 L433.0,112.6 L431.4,112.3 L429.9,112.2 L428.5,112.1 L427.3,112.0 L426.1,112.0 L425.0,112.0 L423.8,112.0 L422.6,112.0 L421.3,112.0 L420.0,112.0 L418.6,112.0 L417.2,112.0 L415.7,112.0 L414.2,112.0 L412.7,112.1 L411.2,112.1 L409.9,112.1 L408.7,112.2 L407.6,112.2 L406.8,112.2 Z" fill="#2f87ca" stroke="#2f87ca" stroke-width="0.6" stroke-linejoin="round"/>
<path d="M406.4,101.1 L407.2,101.0 L408.2,101.0 L409.4,100.9 L410.7,100.8 L412.2,100.7 L413.8,100.6 L415.4,100.5 L417.0,100.5 L418.6,100.4 L420.0,100.5 L421.4,100.5 L422.6,100.5 L423.9,100.5 L425.2,100.5 L426.5,100.6 L428.0,100.7 L429.5,100.8 L431.1,101.0 L432.8,101.2 L434.7,101.5 L436.6,101.9 L438.8,102.3 L441.0,102.7 L443.4,103.2 L445.8,103.7 L448.3,104.3 L450.8,104.9 L453.2,105.5 L455.6,106.2 L458.0,106.9 L460.3,107.6 L462.6,108.5 L464.9,109.3 L467.1,110.2 L469.3,111.1 L471.4,112.0 L473.5,112.8 L475.5,113.7 L477.4,114.5 L479.3,115.2 L481.2,116.0 L483.1,116.7 L484.8,117.4 L486.6,118.1 L488.3,118.7 L489.9,119.3 L491.6,119.9 L493.2,120.5 L494.8,121.1 L496.5,121.6 L498.1,122.1 L499.8,122.5 L501.4,123.0 L503.0,123.4 L504.6,123.8 L506.2,124.2 L507.9,124.5 L509.6,124.9 L511.3,125.2 L513.2,125.5 L515.2,125.8 L517.4,126.0 L519.7,126.2 L522.1,126.4 L524.5,126.6 L526.9,126.8 L529.2,127.0 L531.4,127.1 L533.5,127.3 L535.3,127.4 L536.9,127.6 L538.2,127.8 L539.5,127.9 L540.6,128.0 L541.6,128.1 L542.6,128.3 L543.5,128.4 L544.4,128.6 L545.3,128.7 L546.1,128.9 L547.0,129.1 L547.7,129.3 L548.5,129.6 L549.1,129.9 L549.8,130.2 L550.3,130.4 L550.9,130.7 L551.3,130.9 L551.7,131.1 L552.1,131.3 L552.0,132.6 L551.7,132.5 L551.3,132.5 L550.8,132.5 L550.3,132.4 L549.7,132.4 L549.1,132.3 L548.4,132.2 L547.6,132.2 L546.8,132.1 L546.0,132.1 L545.2,132.0 L544.3,132.0 L543.4,131.9 L542.5,131.9 L541.5,131.9 L540.5,131.8 L539.3,131.8 L538.0,131.7 L536.6,131.6 L535.0,131.5 L533.2,131.4 L531.2,131.3 L529.0,131.1 L526.6,131.0 L524.2,130.8 L521.7,130.6 L519.3,130.4 L516.9,130.2 L514.7,130.0 L512.6,129.7 L510.7,129.4 L508.8,129.1 L507.0,128.7 L505.3,128.4 L503.6,128.0 L501.9,127.6 L500.3,127.2 L498.6,126.7 L496.9,126.2 L495.2,125.7 L493.5,125.2 L491.8,124.6 L490.1,124.0 L488.4,123.4 L486.7,122.8 L485.0,122.1 L483.3,121.4 L481.5,120.7 L479.7,120.0 L477.8,119.3 L475.8,118.6 L473.8,117.8 L471.8,116.9 L469.7,116.1 L467.6,115.2 L465.5,114.4 L463.3,113.5 L461.1,112.7 L458.9,112.0 L456.7,111.3 L454.5,110.6 L452.1,110.0 L449.7,109.4 L447.3,108.9 L444.9,108.4 L442.5,107.9 L440.2,107.5 L437.9,107.1 L435.8,106.7 L433.9,106.4 L432.2,106.1 L430.6,105.9 L429.1,105.8 L427.7,105.7 L426.3,105.6 L425.1,105.6 L423.8,105.6 L422.6,105.6 L421.3,105.6 L420.0,105.6 L418.6,105.5 L417.1,105.6 L415.5,105.6 L413.9,105.7 L412.4,105.7 L410.9,105.8 L409.6,105.8 L408.4,105.9 L407.4,105.9 L406.6,106.0 Z" fill="#4a9ddb" stroke="#4a9ddb" stroke-width="0.6" stroke-linejoin="round"/>
<path d="M401,103 H409.5 Q415.5,109.5 415,116.5 Q415.5,123.5 409.5,130 H401 Z" fill="url(#cuV)"/>
<text x="460.4" y="198.3" font-size="25.6" font-weight="700" fill="#0d0d0d" text-anchor="start" textLength="284.2" lengthAdjust="spacingAndGlyphs">COPPER CONTROL CABLE</text>
<text x="481.9" y="224.6" font-size="20.8" font-weight="700" fill="#161616" text-anchor="start" textLength="243.7" lengthAdjust="spacingAndGlyphs">MANUFACTURING PROCESS</text>
<line x1="396.7" y1="240.2" x2="584.6" y2="240.2" stroke="#6fa9cf" stroke-width="1.4"/>
<line x1="598.1" y1="240.2" x2="793.3" y2="240.2" stroke="#6fa9cf" stroke-width="1.4"/>
<path d="M584,239.6 V262 H537.8 V278" fill="none" stroke="#7d7d7d" stroke-width="1.3"/>
<path d="M598.7,239.6 V262 H644.6 V278" fill="none" stroke="#7d7d7d" stroke-width="1.3"/>
<path d="M533.6,276.5 L542.0,276.5 L537.8,283.6 Z" fill="#7d7d7d"/>
<path d="M640.4,276.5 L648.8,276.5 L644.6,283.6 Z" fill="#7d7d7d"/>
<rect x="388.6" y="291.4" width="81.4" height="82.9" rx="6.5" fill="#4ea3d7"/>
<rect x="496.7" y="291.4" width="81.4" height="82.9" rx="6.5" fill="#4ea3d7"/>
<rect x="603.9" y="291.4" width="81.4" height="82.9" rx="6.5" fill="#4ea3d7"/>
<rect x="712.5" y="291.4" width="81.4" height="82.9" rx="6.5" fill="#4ea3d7"/>
<line x1="473.8" y1="335.3" x2="488.6" y2="335.3" stroke="#7d7d7d" stroke-width="1.4"/>
<path d="M487.5,331.7 L487.5,338.9 L493.6,335.3 Z" fill="#7d7d7d"/>
<line x1="581.9" y1="335.3" x2="595.9" y2="335.3" stroke="#7d7d7d" stroke-width="1.4"/>
<path d="M594.8,331.7 L594.8,338.9 L600.9,335.3 Z" fill="#7d7d7d"/>
<line x1="689.5" y1="335.3" x2="703.6" y2="335.3" stroke="#7d7d7d" stroke-width="1.4"/>
<path d="M702.5,331.7 L702.5,338.9 L708.6,335.3 Z" fill="#7d7d7d"/>
<path d="M373.5,330 H375 M373.5,340.4 H375" stroke="#6a8396" stroke-width="1.3"/>
<rect x="422" y="308.5" width="12.2" height="43.5" fill="#eef1f3"/>
<path d="M435,308.5 H458 V318.4 H443.6 V342.6 H458 V352 H435 Z" fill="#e6eaed"/>
<line x1="417.0" y1="330.4" x2="461.0" y2="321.6" stroke="#1c5f9f" stroke-width="2.6" stroke-linecap="butt"/>
<line x1="417.0" y1="330.3" x2="461.0" y2="321.5" stroke="#2f80c4" stroke-width="1.7" stroke-linecap="butt"/>
<line x1="416.9" y1="330.0" x2="460.9" y2="321.2" stroke="#62aee2" stroke-width="0.6" stroke-linecap="butt"/>
<line x1="417.0" y1="331.0" x2="461.0" y2="338.2" stroke="#1c5f9f" stroke-width="2.6" stroke-linecap="butt"/>
<line x1="417.0" y1="330.9" x2="461.0" y2="338.1" stroke="#2f80c4" stroke-width="1.7" stroke-linecap="butt"/>
<line x1="417.1" y1="330.6" x2="461.1" y2="337.8" stroke="#62aee2" stroke-width="0.6" stroke-linecap="butt"/>
<line x1="417" y1="330.7" x2="446" y2="327.4" stroke="#a9d0ec" stroke-width="1.1"/>
<rect x="442.8" y="320" width="18" height="3.2" rx="1.2" fill="#2d3a44"/><rect x="443.5" y="320.6" width="16" height="1.1" fill="#c9d4dc"/>
<rect x="442.8" y="336.6" width="18" height="3.2" rx="1.2" fill="#2d3a44"/><rect x="443.5" y="337.2" width="16" height="1.1" fill="#c9d4dc"/>
<rect x="396.1" y="326.3" width="21.6" height="8.6" rx="1.2" fill="url(#bkV)"/>
<line x1="521.0" y1="329.5" x2="553.5" y2="351.5" stroke="#ba6633" stroke-width="3.0" stroke-linecap="butt"/>
<line x1="521.1" y1="329.4" x2="553.6" y2="351.4" stroke="#df8c57" stroke-width="2.0" stroke-linecap="butt"/>
<line x1="521.2" y1="329.2" x2="553.7" y2="351.2" stroke="#f5c09a" stroke-width="0.7" stroke-linecap="butt"/>
<line x1="521.0" y1="328.0" x2="557.7" y2="357.0" stroke="#ba6633" stroke-width="5.4" stroke-linecap="butt"/>
<line x1="521.2" y1="327.8" x2="557.9" y2="356.8" stroke="#df8c57" stroke-width="3.6" stroke-linecap="butt"/>
<line x1="521.5" y1="327.4" x2="558.2" y2="356.4" stroke="#f5c09a" stroke-width="1.3" stroke-linecap="butt"/>
<line x1="524.0" y1="329.0" x2="561.8" y2="343.4" stroke="#1c5f9f" stroke-width="3.2" stroke-linecap="butt"/>
<line x1="524.1" y1="328.8" x2="561.9" y2="343.2" stroke="#2f80c4" stroke-width="2.1" stroke-linecap="butt"/>
<line x1="524.2" y1="328.6" x2="562.0" y2="343.0" stroke="#62aee2" stroke-width="0.8" stroke-linecap="butt"/>
<line x1="552.0" y1="337.6" x2="566.4" y2="340.4" stroke="#bfdde8" stroke-width="1.5" stroke-linecap="butt"/>
<line x1="552.0" y1="337.5" x2="566.4" y2="340.3" stroke="#e6f4f8" stroke-width="1.0" stroke-linecap="butt"/>
<line x1="552.0" y1="337.4" x2="566.4" y2="340.2" stroke="#ffffff" stroke-width="0.4" stroke-linecap="butt"/>
<line x1="528.0" y1="326.4" x2="562.0" y2="317.4" stroke="#1c5f9f" stroke-width="2.4" stroke-linecap="butt"/>
<line x1="528.0" y1="326.3" x2="562.0" y2="317.3" stroke="#2f80c4" stroke-width="1.6" stroke-linecap="butt"/>
<line x1="527.9" y1="326.1" x2="561.9" y2="317.1" stroke="#62aee2" stroke-width="0.6" stroke-linecap="butt"/>
<line x1="521.0" y1="326.0" x2="553.5" y2="318.6" stroke="#1c5f9f" stroke-width="3.4" stroke-linecap="butt"/>
<line x1="521.0" y1="325.8" x2="553.5" y2="318.4" stroke="#2f80c4" stroke-width="2.2" stroke-linecap="butt"/>
<line x1="520.9" y1="325.5" x2="553.4" y2="318.1" stroke="#62aee2" stroke-width="0.8" stroke-linecap="butt"/>
<line x1="550.0" y1="317.8" x2="563.0" y2="313.6" stroke="#bfdde8" stroke-width="1.6" stroke-linecap="butt"/>
<line x1="550.0" y1="317.7" x2="563.0" y2="313.5" stroke="#e6f4f8" stroke-width="1.1" stroke-linecap="butt"/>
<line x1="549.9" y1="317.6" x2="562.9" y2="313.4" stroke="#ffffff" stroke-width="0.4" stroke-linecap="butt"/>
<line x1="521.0" y1="326.5" x2="564.6" y2="332.0" stroke="#ba6633" stroke-width="5.2" stroke-linecap="butt"/>
<line x1="521.0" y1="326.2" x2="564.6" y2="331.7" stroke="#df8c57" stroke-width="3.4" stroke-linecap="butt"/>
<line x1="521.1" y1="325.8" x2="564.7" y2="331.3" stroke="#f5c09a" stroke-width="1.2" stroke-linecap="butt"/>
<line x1="521.0" y1="324.4" x2="561.1" y2="302.6" stroke="#ba6633" stroke-width="5.0" stroke-linecap="butt"/>
<line x1="520.9" y1="324.2" x2="561.0" y2="302.4" stroke="#df8c57" stroke-width="3.3" stroke-linecap="butt"/>
<line x1="520.7" y1="323.8" x2="560.8" y2="302.0" stroke="#f5c09a" stroke-width="1.2" stroke-linecap="butt"/>
<rect x="501" y="310.7" width="20" height="29.6" rx="1.5" fill="url(#blV)"/>
<ellipse cx="520.4" cy="325.5" rx="2.2" ry="14.8" fill="#2a70b2"/>
<g clip-path="url(#clipS3)">
<line x1="639.2" y1="290.0" x2="637.5" y2="350.0" stroke="#1c5f9f" stroke-width="6.0" stroke-linecap="butt"/>
<line x1="638.9" y1="290.0" x2="637.2" y2="350.0" stroke="#2f80c4" stroke-width="4.0" stroke-linecap="butt"/>
<line x1="638.4" y1="290.0" x2="636.7" y2="350.0" stroke="#62aee2" stroke-width="1.4" stroke-linecap="butt"/>
<line x1="646.5" y1="290.0" x2="643.0" y2="350.0" stroke="#1c5f9f" stroke-width="5.0" stroke-linecap="butt"/>
<line x1="646.2" y1="290.0" x2="642.7" y2="350.0" stroke="#2f80c4" stroke-width="3.3" stroke-linecap="butt"/>
<line x1="645.8" y1="290.0" x2="642.3" y2="350.0" stroke="#62aee2" stroke-width="1.2" stroke-linecap="butt"/>
<line x1="658.5" y1="323.5" x2="666.0" y2="305.0" stroke="#bfdde8" stroke-width="1.3" stroke-linecap="butt"/>
<line x1="658.4" y1="323.5" x2="665.9" y2="305.0" stroke="#e6f4f8" stroke-width="0.9" stroke-linecap="butt"/>
<line x1="658.3" y1="323.4" x2="665.8" y2="304.9" stroke="#ffffff" stroke-width="0.3" stroke-linecap="butt"/>
<line x1="666.0" y1="305.0" x2="673.5" y2="296.8" stroke="#bfdde8" stroke-width="1.3" stroke-linecap="butt"/>
<line x1="665.9" y1="305.0" x2="673.4" y2="296.8" stroke="#e6f4f8" stroke-width="0.9" stroke-linecap="butt"/>
<line x1="665.9" y1="304.9" x2="673.4" y2="296.7" stroke="#ffffff" stroke-width="0.3" stroke-linecap="butt"/>
<line x1="660.0" y1="321.0" x2="668.0" y2="311.0" stroke="#bfdde8" stroke-width="1.1" stroke-linecap="butt"/>
<line x1="660.0" y1="321.0" x2="668.0" y2="311.0" stroke="#e6f4f8" stroke-width="0.7" stroke-linecap="butt"/>
<line x1="659.9" y1="320.9" x2="667.9" y2="310.9" stroke="#ffffff" stroke-width="0.3" stroke-linecap="butt"/>
<line x1="622.1" y1="290.0" x2="646.7" y2="350.0" stroke="#ba6633" stroke-width="7.5" stroke-linecap="butt"/>
<line x1="622.5" y1="289.8" x2="647.1" y2="349.8" stroke="#df8c57" stroke-width="5.0" stroke-linecap="butt"/>
<line x1="623.1" y1="289.6" x2="647.7" y2="349.6" stroke="#f5c09a" stroke-width="1.8" stroke-linecap="butt"/>
<line x1="655.6" y1="290.0" x2="651.0" y2="350.0" stroke="#ba6633" stroke-width="7.0" stroke-linecap="butt"/>
<line x1="655.2" y1="290.0" x2="650.6" y2="350.0" stroke="#df8c57" stroke-width="4.6" stroke-linecap="butt"/>
<line x1="654.6" y1="289.9" x2="650.0" y2="349.9" stroke="#f5c09a" stroke-width="1.7" stroke-linecap="butt"/>
<rect x="630" y="347" width="30.6" height="30" fill="url(#bkH)"/>
<ellipse cx="645.3" cy="347" rx="15.3" ry="3.8" fill="#161616"/>
<ellipse cx="645.3" cy="347.4" rx="12.6" ry="2.6" fill="#2a64a0"/>
<line x1="643.4" y1="340.0" x2="646.7" y2="348.5" stroke="#ba6633" stroke-width="7.5" stroke-linecap="butt"/>
<line x1="643.8" y1="339.8" x2="647.1" y2="348.3" stroke="#df8c57" stroke-width="5.0" stroke-linecap="butt"/>
<line x1="644.4" y1="339.6" x2="647.7" y2="348.1" stroke="#f5c09a" stroke-width="1.8" stroke-linecap="butt"/>
<line x1="651.8" y1="340.0" x2="651.0" y2="348.5" stroke="#ba6633" stroke-width="6.5" stroke-linecap="butt"/>
<line x1="651.4" y1="340.0" x2="650.6" y2="348.5" stroke="#df8c57" stroke-width="4.3" stroke-linecap="butt"/>
<line x1="650.9" y1="339.9" x2="650.1" y2="348.4" stroke="#f5c09a" stroke-width="1.6" stroke-linecap="butt"/>
</g>
<path d="M755.9,336.8 L775.8,354.9 L768.6,361.9 L750.9,341.6 Z" fill="#d9824a"/>
<line x1="755.8" y1="338.4" x2="774.5" y2="356.1" stroke="#f1b58c" stroke-width="2.2"/>
<line x1="754.8" y1="339.3" x2="773.2" y2="357.5" stroke="#e99c69" stroke-width="2.0"/>
<line x1="753.9" y1="340.2" x2="771.8" y2="358.8" stroke="#c56e38" stroke-width="2.0"/>
<line x1="753.0" y1="341.1" x2="770.6" y2="360.0" stroke="#eaa06e" stroke-width="1.8"/>
<line x1="752.2" y1="341.9" x2="769.5" y2="361.0" stroke="#b15d2b" stroke-width="2.0"/>
<path d="M753.0,329.7 L781.3,326.1 L782.3,337.5 L753.8,338.7 Z" fill="#d9824a"/>
<line x1="754.3" y1="331.2" x2="781.5" y2="328.1" stroke="#f1b58c" stroke-width="2.5"/>
<line x1="754.4" y1="332.9" x2="781.7" y2="330.3" stroke="#e99c69" stroke-width="2.3"/>
<line x1="754.6" y1="334.6" x2="781.9" y2="332.4" stroke="#c56e38" stroke-width="2.3"/>
<line x1="754.7" y1="336.1" x2="782.0" y2="334.4" stroke="#eaa06e" stroke-width="2.1"/>
<line x1="754.8" y1="337.5" x2="782.2" y2="336.1" stroke="#b15d2b" stroke-width="2.3"/>
<ellipse cx="781.8" cy="331.8" rx="1.6" ry="5.6" fill="#eeb088"/>
<g transform="rotate(15.5 741 333.5)">
<rect x="723.5" y="319.2" width="35.8" height="28.6" fill="url(#bkV)"/>
<ellipse cx="723.5" cy="333.5" rx="5.6" ry="14.3" fill="url(#bkV)"/>
<ellipse cx="759.3" cy="333.5" rx="4.8" ry="14.3" fill="#121212"/>
</g>
<path d="M757.8,337.4 L764.7,343.7 L759.3,348.9 L753.2,341.8 Z" fill="#d9824a"/>
<line x1="757.3" y1="338.4" x2="763.8" y2="344.6" stroke="#f1b58c" stroke-width="1.7"/>
<line x1="756.4" y1="339.3" x2="762.7" y2="345.6" stroke="#e99c69" stroke-width="1.5"/>
<line x1="755.5" y1="340.1" x2="761.7" y2="346.6" stroke="#c56e38" stroke-width="1.5"/>
<line x1="754.7" y1="340.9" x2="760.8" y2="347.5" stroke="#eaa06e" stroke-width="1.4"/>
<line x1="754.0" y1="341.6" x2="759.9" y2="348.3" stroke="#b15d2b" stroke-width="1.5"/>
<path d="M755.4,329.8 L765.6,328.4 L766.4,337.8 L756.2,338.2 Z" fill="#d9824a"/>
<line x1="756.0" y1="331.2" x2="765.7" y2="330.1" stroke="#f1b58c" stroke-width="2.1"/>
<line x1="756.1" y1="332.8" x2="765.9" y2="331.8" stroke="#e99c69" stroke-width="1.9"/>
<line x1="756.2" y1="334.4" x2="766.0" y2="333.6" stroke="#c56e38" stroke-width="1.9"/>
<line x1="756.4" y1="335.9" x2="766.2" y2="335.2" stroke="#eaa06e" stroke-width="1.7"/>
<line x1="756.5" y1="337.1" x2="766.3" y2="336.6" stroke="#b15d2b" stroke-width="1.9"/>
<text x="393.1" y="395.9" font-size="18.0" font-weight="400" fill="#1b1b1b" text-anchor="start" textLength="58.7" lengthAdjust="spacingAndGlyphs" stroke="#1b1b1b" stroke-width="0.35">Drawing</text>
<text x="494.2" y="395.9" font-size="18.0" font-weight="400" fill="#1b1b1b" text-anchor="start" textLength="78.1" lengthAdjust="spacingAndGlyphs" stroke="#1b1b1b" stroke-width="0.35">2 Stranding</text>
<text x="608.8" y="395.9" font-size="18.0" font-weight="400" fill="#1b1b1b" text-anchor="start" textLength="67.9" lengthAdjust="spacingAndGlyphs" stroke="#1b1b1b" stroke-width="0.35">Insulation</text>
<text x="711.4" y="395.9" font-size="18.0" font-weight="400" fill="#1b1b1b" text-anchor="start" textLength="79.8" lengthAdjust="spacingAndGlyphs" stroke="#1b1b1b" stroke-width="0.35">3 Insulation</text>
<path d="M434.1,434 V416.1 H539.1 V434" fill="none" stroke="#7d7d7d" stroke-width="1.4"/>
<path d="M639.4,434 V416.1 H742.9 V434" fill="none" stroke="#7d7d7d" stroke-width="1.4"/>
<path d="M430.1,433.8 L438.1,433.8 L434.1,440.6 Z" fill="#7d7d7d"/>
<path d="M535.1,433.8 L543.1,433.8 L539.1,440.6 Z" fill="#7d7d7d"/>
<path d="M635.4,433.8 L643.4,433.8 L639.4,440.6 Z" fill="#7d7d7d"/>
<path d="M738.9,433.8 L746.9,433.8 L742.9,440.6 Z" fill="#7d7d7d"/>
<circle cx="435.6" cy="486.7" r="36.8" fill="#2a6aa5"/>
<line x1="414.0" y1="481.4" x2="396.2" y2="475.0" stroke="#ba6633" stroke-width="5.0" stroke-linecap="butt"/>
<line x1="414.1" y1="481.2" x2="396.3" y2="474.7" stroke="#df8c57" stroke-width="3.3" stroke-linecap="butt"/>
<line x1="414.2" y1="480.8" x2="396.4" y2="474.3" stroke="#f5c09a" stroke-width="1.2" stroke-linecap="butt"/>
<line x1="414.0" y1="490.8" x2="396.2" y2="495.8" stroke="#ba6633" stroke-width="4.8" stroke-linecap="butt"/>
<line x1="413.9" y1="490.5" x2="396.1" y2="495.5" stroke="#df8c57" stroke-width="3.2" stroke-linecap="butt"/>
<line x1="413.8" y1="490.1" x2="396.0" y2="495.2" stroke="#f5c09a" stroke-width="1.2" stroke-linecap="butt"/>
<line x1="414.0" y1="486.7" x2="395.5" y2="486.7" stroke="#ba6633" stroke-width="5.6" stroke-linecap="butt"/>
<line x1="414.0" y1="486.4" x2="395.5" y2="486.4" stroke="#df8c57" stroke-width="3.7" stroke-linecap="butt"/>
<line x1="414.0" y1="485.9" x2="395.5" y2="485.9" stroke="#f5c09a" stroke-width="1.3" stroke-linecap="butt"/>
<line x1="443.0" y1="482.7" x2="462.9" y2="476.6" stroke="#ba6633" stroke-width="4.6" stroke-linecap="butt"/>
<line x1="442.9" y1="482.4" x2="462.8" y2="476.4" stroke="#df8c57" stroke-width="3.0" stroke-linecap="butt"/>
<line x1="442.8" y1="482.0" x2="462.7" y2="476.0" stroke="#f5c09a" stroke-width="1.1" stroke-linecap="butt"/>
<line x1="443.0" y1="491.3" x2="462.2" y2="498.2" stroke="#ba6633" stroke-width="4.6" stroke-linecap="butt"/>
<line x1="443.1" y1="491.1" x2="462.3" y2="498.0" stroke="#df8c57" stroke-width="3.0" stroke-linecap="butt"/>
<line x1="443.2" y1="490.7" x2="462.4" y2="497.6" stroke="#f5c09a" stroke-width="1.1" stroke-linecap="butt"/>
<line x1="443.0" y1="484.5" x2="471.2" y2="481.3" stroke="#ba6633" stroke-width="4.6" stroke-linecap="butt"/>
<line x1="443.0" y1="484.3" x2="471.2" y2="481.0" stroke="#df8c57" stroke-width="3.0" stroke-linecap="butt"/>
<line x1="442.9" y1="483.9" x2="471.1" y2="480.7" stroke="#f5c09a" stroke-width="1.1" stroke-linecap="butt"/>
<line x1="443.0" y1="488.7" x2="471.2" y2="491.6" stroke="#ba6633" stroke-width="4.6" stroke-linecap="butt"/>
<line x1="443.0" y1="488.4" x2="471.2" y2="491.3" stroke="#df8c57" stroke-width="3.0" stroke-linecap="butt"/>
<line x1="443.1" y1="488.0" x2="471.3" y2="491.0" stroke="#f5c09a" stroke-width="1.1" stroke-linecap="butt"/>
<line x1="443.0" y1="486.5" x2="472.4" y2="486.2" stroke="#ba6633" stroke-width="4.8" stroke-linecap="butt"/>
<line x1="443.0" y1="486.2" x2="472.4" y2="485.9" stroke="#df8c57" stroke-width="3.2" stroke-linecap="butt"/>
<line x1="443.0" y1="485.8" x2="472.4" y2="485.5" stroke="#f5c09a" stroke-width="1.2" stroke-linecap="butt"/>
<rect x="411.7" y="474.8" width="33.1" height="24.4" rx="1" fill="url(#bkV)"/>
<circle cx="538.4" cy="486.7" r="37.8" fill="#8ac142"/>
<line x1="537.0" y1="476.4" x2="564.6" y2="473.8" stroke="#ba6633" stroke-width="4.6" stroke-linecap="butt"/>
<line x1="537.0" y1="476.1" x2="564.6" y2="473.5" stroke="#df8c57" stroke-width="3.0" stroke-linecap="butt"/>
<line x1="536.9" y1="475.8" x2="564.5" y2="473.2" stroke="#f5c09a" stroke-width="1.1" stroke-linecap="butt"/>
<line x1="537.0" y1="484.0" x2="564.6" y2="483.4" stroke="#ba6633" stroke-width="5.8" stroke-linecap="butt"/>
<line x1="537.0" y1="483.7" x2="564.6" y2="483.1" stroke="#df8c57" stroke-width="3.8" stroke-linecap="butt"/>
<line x1="537.0" y1="483.2" x2="564.6" y2="482.6" stroke="#f5c09a" stroke-width="1.4" stroke-linecap="butt"/>
<line x1="537.0" y1="490.2" x2="564.6" y2="492.9" stroke="#ba6633" stroke-width="4.4" stroke-linecap="butt"/>
<line x1="537.0" y1="490.0" x2="564.6" y2="492.7" stroke="#df8c57" stroke-width="2.9" stroke-linecap="butt"/>
<line x1="537.1" y1="489.6" x2="564.7" y2="492.3" stroke="#f5c09a" stroke-width="1.1" stroke-linecap="butt"/>
<line x1="537.0" y1="496.8" x2="564.6" y2="501.2" stroke="#ba6633" stroke-width="5.2" stroke-linecap="butt"/>
<line x1="537.0" y1="496.5" x2="564.6" y2="500.9" stroke="#df8c57" stroke-width="3.4" stroke-linecap="butt"/>
<line x1="537.1" y1="496.1" x2="564.7" y2="500.5" stroke="#f5c09a" stroke-width="1.2" stroke-linecap="butt"/>
<rect x="511.6" y="473.0" width="26.2" height="9.2" fill="#1f68aa"/>
<rect x="511.6" y="474.0" width="26.2" height="5" fill="#3f93d2"/>
<rect x="511.6" y="474.6" width="26.2" height="2.4" fill="#62aee2"/>
<rect x="511.6" y="482.2" width="26.2" height="9.2" fill="#1f68aa"/>
<rect x="511.6" y="483.2" width="26.2" height="5" fill="#3f93d2"/>
<rect x="511.6" y="483.8" width="26.2" height="2.4" fill="#62aee2"/>
<rect x="511.6" y="491.4" width="26.2" height="9.2" fill="#1f68aa"/>
<rect x="511.6" y="492.4" width="26.2" height="5" fill="#3f93d2"/>
<rect x="511.6" y="493.0" width="26.2" height="2.4" fill="#62aee2"/>
<circle cx="641.4" cy="486.7" r="37.8" fill="#8ac142"/>
<g clip-path="url(#clipC3)">
<line x1="628.0" y1="458.5" x2="629.6" y2="470.0" stroke="#bfdde8" stroke-width="3.0" stroke-linecap="butt"/>
<line x1="628.2" y1="458.5" x2="629.8" y2="470.0" stroke="#e6f4f8" stroke-width="2.0" stroke-linecap="butt"/>
<line x1="628.4" y1="458.4" x2="630.0" y2="469.9" stroke="#ffffff" stroke-width="0.7" stroke-linecap="butt"/>
<line x1="632.8" y1="458.5" x2="633.8" y2="470.0" stroke="#bfdde8" stroke-width="2.6" stroke-linecap="butt"/>
<line x1="632.9" y1="458.5" x2="633.9" y2="470.0" stroke="#e6f4f8" stroke-width="1.7" stroke-linecap="butt"/>
<line x1="633.2" y1="458.5" x2="634.2" y2="470.0" stroke="#ffffff" stroke-width="0.6" stroke-linecap="butt"/>
<line x1="647.0" y1="457.8" x2="645.4" y2="469.0" stroke="#bfdde8" stroke-width="3.0" stroke-linecap="butt"/>
<line x1="646.8" y1="457.8" x2="645.2" y2="469.0" stroke="#e6f4f8" stroke-width="2.0" stroke-linecap="butt"/>
<line x1="646.6" y1="457.7" x2="645.0" y2="468.9" stroke="#ffffff" stroke-width="0.7" stroke-linecap="butt"/>
<line x1="652.2" y1="458.2" x2="650.4" y2="469.0" stroke="#bfdde8" stroke-width="2.8" stroke-linecap="butt"/>
<line x1="652.0" y1="458.2" x2="650.2" y2="469.0" stroke="#e6f4f8" stroke-width="1.8" stroke-linecap="butt"/>
<line x1="651.8" y1="458.1" x2="650.0" y2="468.9" stroke="#ffffff" stroke-width="0.7" stroke-linecap="butt"/>
<line x1="627.0" y1="470.0" x2="632.5" y2="506.0" stroke="#ba6633" stroke-width="6.5" stroke-linecap="butt"/>
<line x1="627.4" y1="469.9" x2="632.9" y2="505.9" stroke="#df8c57" stroke-width="4.3" stroke-linecap="butt"/>
<line x1="627.9" y1="469.9" x2="633.4" y2="505.9" stroke="#f5c09a" stroke-width="1.6" stroke-linecap="butt"/>
<line x1="633.0" y1="469.0" x2="636.0" y2="506.0" stroke="#ba6633" stroke-width="4.0" stroke-linecap="butt"/>
<line x1="633.2" y1="469.0" x2="636.2" y2="506.0" stroke="#df8c57" stroke-width="2.6" stroke-linecap="butt"/>
<line x1="633.6" y1="469.0" x2="636.6" y2="506.0" stroke="#f5c09a" stroke-width="1.0" stroke-linecap="butt"/>
<line x1="655.5" y1="470.0" x2="650.0" y2="506.0" stroke="#ba6633" stroke-width="6.5" stroke-linecap="butt"/>
<line x1="655.1" y1="469.9" x2="649.6" y2="505.9" stroke="#df8c57" stroke-width="4.3" stroke-linecap="butt"/>
<line x1="654.6" y1="469.9" x2="649.1" y2="505.9" stroke="#f5c09a" stroke-width="1.6" stroke-linecap="butt"/>
<line x1="650.0" y1="469.0" x2="647.0" y2="506.0" stroke="#ba6633" stroke-width="4.0" stroke-linecap="butt"/>
<line x1="649.8" y1="469.0" x2="646.8" y2="506.0" stroke="#df8c57" stroke-width="2.6" stroke-linecap="butt"/>
<line x1="649.4" y1="469.0" x2="646.4" y2="506.0" stroke="#f5c09a" stroke-width="1.0" stroke-linecap="butt"/>
<line x1="639.0" y1="467.5" x2="639.8" y2="507.0" stroke="#1c5f9f" stroke-width="7.5" stroke-linecap="butt"/>
<line x1="639.4" y1="467.5" x2="640.2" y2="507.0" stroke="#2f80c4" stroke-width="5.0" stroke-linecap="butt"/>
<line x1="640.0" y1="467.5" x2="640.8" y2="507.0" stroke="#62aee2" stroke-width="1.8" stroke-linecap="butt"/>
<line x1="645.0" y1="468.0" x2="643.5" y2="507.0" stroke="#1c5f9f" stroke-width="3.5" stroke-linecap="butt"/>
<line x1="644.8" y1="468.0" x2="643.3" y2="507.0" stroke="#2f80c4" stroke-width="2.3" stroke-linecap="butt"/>
<line x1="644.5" y1="468.0" x2="643.0" y2="507.0" stroke="#62aee2" stroke-width="0.8" stroke-linecap="butt"/>
<rect x="626.9" y="505" width="28.2" height="24" fill="url(#cuH)"/>
<ellipse cx="641" cy="505" rx="14.1" ry="2.8" fill="#c06a35"/>
</g>
<g transform="rotate(-30.7 732.3 492.7)">
<rect x="732.3" y="464.5" width="45" height="56.4" fill="url(#bkJ)"/>
<ellipse cx="777.3" cy="492.7" rx="10" ry="28.2" fill="url(#bkJ)"/>
<ellipse cx="732.3" cy="492.7" rx="24.2" ry="28.4" fill="#141414"/>
<ellipse cx="732.8" cy="492.7" rx="21.6" ry="25.8" fill="#eaa57b"/>
</g>
<circle cx="737.8" cy="480" r="9" fill="#e9996b" stroke="#cf8555" stroke-width="1"/>
<circle cx="721.1" cy="482.9" r="9" fill="#e9996b" stroke="#cf8555" stroke-width="1"/>
<circle cx="742.9" cy="504.7" r="9" fill="#e9996b" stroke="#cf8555" stroke-width="1"/>
<circle cx="725.5" cy="506.9" r="9" fill="#e9996b" stroke="#cf8555" stroke-width="1"/>
<circle cx="731.5" cy="493.5" r="5.5" fill="#e39365"/>
<text x="495.2" y="550.8" font-size="18.0" font-weight="400" fill="#1b1b1b" text-anchor="start" textLength="79.3" lengthAdjust="spacingAndGlyphs" stroke="#1b1b1b" stroke-width="0.35">4 Assembly</text>
<text x="599.9" y="550.6" font-size="18.0" font-weight="400" fill="#1b1b1b" text-anchor="start" textLength="75.4" lengthAdjust="spacingAndGlyphs" stroke="#1b1b1b" stroke-width="0.35">4 Shielding</text>
<text x="713.5" y="550.6" font-size="18.0" font-weight="400" fill="#1b1b1b" text-anchor="start" textLength="65.0" lengthAdjust="spacingAndGlyphs" stroke="#1b1b1b" stroke-width="0.35">Jacketing</text>
<text x="919.5" y="60.7" font-size="18.2" font-weight="400" fill="#111" text-anchor="start" textLength="144.3" lengthAdjust="spacingAndGlyphs" stroke="#111" stroke-width="0.8">OCODERDIVSTSTY</text>
<rect x="976.7" y="128.3" width="12.2" height="43.1" fill="#2e6ca6"/>
<rect x="994.1" y="103.3" width="12.5" height="68.1" fill="#8cc043"/>
<rect x="1012.3" y="127.2" width="12.5" height="44.2" fill="#5ba9d8"/>
<rect x="1030" y="91.4" width="12.5" height="80.0" fill="#5ba9d8"/>
<rect x="1048.2" y="110.6" width="12.5" height="60.8" fill="#2e6ca6"/>
<rect x="1065.9" y="81.2" width="12.5" height="90.2" fill="#2e6ca6"/>
<rect x="1084.1" y="148.3" width="12.2" height="23.1" fill="#2e6ca6"/>
<rect x="1101.5" y="152.2" width="12.2" height="19.2" fill="#8cc043"/>
<path d="M968.9,76.8 V171.7 H1121" fill="none" stroke="#3a3a3a" stroke-width="1.3"/>
<text x="929.1" y="85.1" font-size="14.2" font-weight="400" fill="#1a1a1a" text-anchor="start" textLength="32.8" lengthAdjust="spacingAndGlyphs" stroke="#1a1a1a" stroke-width="0.45">0.5%</text>
<text x="928.0" y="115.8" font-size="14.2" font-weight="400" fill="#1a1a1a" text-anchor="start" textLength="33.2" lengthAdjust="spacingAndGlyphs" stroke="#1a1a1a" stroke-width="0.45">2,8%</text>
<text x="939.0" y="146.5" font-size="14.2" font-weight="400" fill="#1a1a1a" text-anchor="start" textLength="23.2" lengthAdjust="spacingAndGlyphs" stroke="#1a1a1a" stroke-width="0.45">.4%</text>
<text x="955.4" y="176.9" font-size="14.2" font-weight="400" fill="#1a1a1a" text-anchor="start" textLength="6.8" lengthAdjust="spacingAndGlyphs" stroke="#1a1a1a" stroke-width="0.45">0</text>
<text x="982.7" y="189.9" font-size="12.4" font-weight="400" fill="#222" text-anchor="start" textLength="23.4" lengthAdjust="spacingAndGlyphs">10%</text>
<text x="1022.2" y="189.9" font-size="12.4" font-weight="400" fill="#222" text-anchor="start" textLength="16.9" lengthAdjust="spacingAndGlyphs">8%</text>
<text x="1052.1" y="189.9" font-size="12.4" font-weight="400" fill="#222" text-anchor="start" textLength="24.2" lengthAdjust="spacingAndGlyphs">10%</text>
<text x="1088.0" y="189.9" font-size="12.4" font-weight="400" fill="#222" text-anchor="start" textLength="25.7" lengthAdjust="spacingAndGlyphs">60%</text>
<path d="M807.9,329 H859.3 V238.6 H937.3" fill="none" stroke="#7d7d7d" stroke-width="1.3"/>
<path d="M807.9,338.8 H858.8 V438.2 H901.3" fill="none" stroke="#7d7d7d" stroke-width="1.3"/>
<circle cx="962.8" cy="238.7" r="18.8" fill="#8fc34a"/>
<circle cx="944.4" cy="238.7" r="3.0" fill="#fefefe"/>
<circle cx="981.2" cy="238.7" r="3.0" fill="#fefefe"/>
<circle cx="962.8" cy="257.3" r="2.6" fill="#fefefe"/>
<circle cx="974.9" cy="223.3" r="1.6" fill="#fefefe"/>
<circle cx="950.7" cy="223.3" r="1.6" fill="#fefefe"/>
<rect x="944.5" y="240" width="4.6" height="1.6" fill="#fefefe"/><rect x="976.5" y="239" width="4.6" height="1.6" fill="#fefefe"/><rect x="962" y="251.5" width="1.6" height="4" fill="#fefefe"/>
<path d="M955.3,226.8 L970.4,250.3 M970.4,226.8 L954.4,250.3" stroke="#dcf5b8" stroke-width="1.5" fill="none"/>
<circle cx="961.2" cy="290.8" r="26.4" fill="#2b6fab"/>
<path d="M970.1,273 L959.5,273.9 L950.2,293.2 L961.2,294.1 L953.9,309.5 L972.9,287.3 L964,286.5 Z" fill="#fff"/>
<text x="1000.6" y="281.1" font-size="18.8" font-weight="400" fill="#151515" text-anchor="start" textLength="146.9" lengthAdjust="spacingAndGlyphs" stroke="#151515" stroke-width="0.45">Conductor Diameter</text>
<text x="1000.6" y="306.0" font-size="19.2" font-weight="400" fill="#2a2a2a" text-anchor="start" textLength="149.1" lengthAdjust="spacingAndGlyphs">Preciaing oun wire</text>
<text x="1000.6" y="324.4" font-size="19.2" font-weight="400" fill="#2a2a2a" text-anchor="start" textLength="129.6" lengthAdjust="spacingAndGlyphs">pase of sindards</text>
<circle cx="961.9" cy="375.3" r="22.6" fill="#8ac142"/>
<path d="M932.7,351.8 L944.8,351.8 Q947,356 948.4,358.8 Q950.5,364 954,366 L960.3,368.9 L952.8,375.6 Q946,370 944.3,366.8 Q942,362 940,358.2 Z" fill="#2470b4"/>
<path d="M944.8,351.8 Q947,356 948.4,358.8 Q950.5,364 954,366 L960.3,368.9 L957.6,371.2 Q949,366.5 947,362 Q945,356.5 942.6,351.8 Z" fill="#1b5a98"/>
<path d="M972.1,395.1 L978.5,391.4 L989.2,401.5 L978.5,402.6 Z" fill="#2470b4"/>
<path d="M938.4,396.7 L944.8,391.3 Q956,384 959.8,375 Q963,366 971,360.5 L980.7,350.7 L987.6,353.9 L978.5,364 Q969.5,370 966.5,379.5 Q963,389 951.5,396.5 L943.6,402.4 Z" fill="#9dcd55"/>
<path d="M947.5,392.6 Q958.5,385.6 962.3,376.4 Q965.6,367.4 974,361.4" fill="none" stroke="#f4f6e2" stroke-width="3.2" stroke-dasharray="3.2 1.8"/>
<path d="M947.5,392.6 Q958.5,385.6 962.3,376.4 Q965.6,367.4 974,361.4" fill="none" stroke="#d8c27a" stroke-width="0.9"/>
<text x="1000.6" y="369.2" font-size="19.2" font-weight="400" fill="#1d1d1d" text-anchor="start" textLength="155.6" lengthAdjust="spacingAndGlyphs" stroke="#1d1d1d" stroke-width="0.15">Conductor Diameter</text>
<text x="1000.6" y="390.3" font-size="19.2" font-weight="400" fill="#2a2a2a" text-anchor="start" textLength="125.3" lengthAdjust="spacingAndGlyphs">shielevs poctles</text>
<rect x="932.4" y="478" width="16.5" height="9.3" rx="1.6" fill="#4a4e51"/>
<circle cx="940.4" cy="452.8" r="29.6" fill="#4a4e51"/>
<circle cx="940.4" cy="452.8" r="24.8" fill="#fbfbfb"/>
<path d="M918.5,453.1 A21.9,21.9 0 0 1 919.9,445.0" fill="none" stroke="#c3cf4c" stroke-width="5.8"/>
<path d="M919.7,445.6 A21.9,21.9 0 0 1 923.8,438.5" fill="none" stroke="#d2d556" stroke-width="5.8"/>
<path d="M923.4,439.0 A21.9,21.9 0 0 1 930.4,433.3" fill="none" stroke="#e3dc74" stroke-width="5.8"/>
<path d="M929.8,433.6 A21.9,21.9 0 0 1 938.4,431.0" fill="none" stroke="#efe6a0" stroke-width="5.8"/>
<path d="M937.8,431.1 A21.9,21.9 0 0 1 945.3,431.4" fill="none" stroke="#f3c77a" stroke-width="5.8"/>
<path d="M944.7,431.3 A21.9,21.9 0 0 1 951.6,434.0" fill="none" stroke="#f09a4c" stroke-width="5.8"/>
<path d="M951.1,433.7 A21.9,21.9 0 0 1 957.4,439.0" fill="none" stroke="#df4a34" stroke-width="5.8"/>
<path d="M957.0,438.5 A21.9,21.9 0 0 1 961.3,446.3" fill="none" stroke="#d42a2a" stroke-width="5.8"/>
<path d="M961.1,445.7 A21.9,21.9 0 0 1 962.3,452.3" fill="none" stroke="#d02626" stroke-width="5.8"/>
<line x1="923.2" y1="449.1" x2="916.1" y2="447.6" stroke="#34383a" stroke-width="1.1"/>
<line x1="926.3" y1="442.2" x2="920.6" y2="437.9" stroke="#34383a" stroke-width="1.1"/>
<line x1="932.4" y1="437.1" x2="929.1" y2="430.7" stroke="#34383a" stroke-width="1.1"/>
<line x1="940.1" y1="435.2" x2="940.0" y2="428.0" stroke="#34383a" stroke-width="1.1"/>
<line x1="948.4" y1="437.1" x2="951.7" y2="430.7" stroke="#34383a" stroke-width="1.1"/>
<line x1="954.6" y1="442.5" x2="960.5" y2="438.2" stroke="#34383a" stroke-width="1.1"/>
<line x1="957.6" y1="449.1" x2="964.7" y2="447.6" stroke="#34383a" stroke-width="1.1"/>
<line x1="940.4" y1="452.8" x2="951.4" y2="442.5" stroke="#3a3a3d" stroke-width="1.6" stroke-linecap="round"/>
<circle cx="940.2" cy="453" r="2.8" fill="#4a4044"/><circle cx="940.2" cy="453" r="1.2" fill="#e8e8e8"/>
<text x="922.6" y="463.0" font-size="4.6" font-weight="700" fill="#333" text-anchor="start">m</text>
<text x="951.6" y="463.0" font-size="4.6" font-weight="700" fill="#333" text-anchor="start" textLength="7.4" lengthAdjust="spacingAndGlyphs">TSS</text>
<circle cx="940.7" cy="471.9" r="12.2" fill="#4a4e51"/>
<circle cx="940.7" cy="471.9" r="6.8" fill="#f0c83a"/><circle cx="940.7" cy="471.9" r="6.8" fill="none" stroke="#d9ae24" stroke-width="0.8"/>
<path d="M940.4,467.8 V473 H943" fill="none" stroke="#4a3f14" stroke-width="1.3"/>
<text x="975.8" y="442.5" font-size="19.3" font-weight="700" fill="#141414" text-anchor="start" textLength="151.2" lengthAdjust="spacingAndGlyphs">TENSILE STRENGTH</text>
<text x="971.3" y="476.3" font-size="11.8" font-weight="400" fill="#222" text-anchor="start" textLength="56.2" lengthAdjust="spacingAndGlyphs">Acceiptable</text>
<text x="973.0" y="491.3" font-size="12.3" font-weight="400" fill="#222" text-anchor="start" textLength="32.8" lengthAdjust="spacingAndGlyphs">12,0/%</text>
<text x="1077.5" y="476.3" font-size="11.8" font-weight="400" fill="#222" text-anchor="start" textLength="43.8" lengthAdjust="spacingAndGlyphs">Diameıge</text>
<text x="1082.0" y="491.3" font-size="12.3" font-weight="400" fill="#222" text-anchor="start" textLength="34.3" lengthAdjust="spacingAndGlyphs">14,0%</text>
<path d="M1039.5,486 H1055.5 V483.6 L1065.2,488.8 L1055.5,494 V491.6 H1039.5 Z" fill="#555"/>
<line x1="966.3" y1="500.5" x2="1035.8" y2="500.5" stroke="#6a6a6a" stroke-width="1.2"/>
<path d="M967.7,497.9 L967.7,503.1 L963.3,500.5 Z" fill="#6a6a6a"/>
<path d="M1034.4,497.9 L1034.4,503.1 L1038.8,500.5 Z" fill="#6a6a6a"/>
<line x1="1065" y1="500.5" x2="1133.3" y2="500.5" stroke="#6a6a6a" stroke-width="1.2"/>
<path d="M1066.4,497.9 L1066.4,503.1 L1062.0,500.5 Z" fill="#6a6a6a"/>
<path d="M1131.9,497.9 L1131.9,503.1 L1136.3,500.5 Z" fill="#6a6a6a"/>
<rect x="972" y="505.8" width="62.5" height="16" fill="#8cc63f"/>
<rect x="1067" y="505.8" width="63" height="16" fill="#4d4d4d"/>
<line x1="1046" y1="513.4" x2="1061.3" y2="513.4" stroke="#555" stroke-width="1.4"/>
<path d="M1040.5,513.4 L1051,509.4 L1048.4,513.4 L1051,517.4 Z" fill="#555"/>
<text x="973.8" y="538.0" font-size="16.4" font-weight="400" fill="#1b1b1b" text-anchor="start" textLength="71.7" lengthAdjust="spacingAndGlyphs" stroke="#1b1b1b" stroke-width="0.3">Acceptable</text>
<text x="1081.3" y="538.0" font-size="16.4" font-weight="400" fill="#1b1b1b" text-anchor="start" textLength="36.2" lengthAdjust="spacingAndGlyphs" stroke="#1b1b1b" stroke-width="0.3">Failed</text>
<path d="M951.8,590.3 L935.4,559.2 L928.6,562.8 L945.4,593.7 Z" fill="#d9824a"/>
<line x1="950.0" y1="589.7" x2="934.2" y2="559.8" stroke="#f1b58c" stroke-width="1.7"/>
<line x1="948.8" y1="590.3" x2="932.9" y2="560.5" stroke="#e99c69" stroke-width="1.6"/>
<line x1="947.6" y1="590.9" x2="931.6" y2="561.2" stroke="#c56e38" stroke-width="1.6"/>
<line x1="946.5" y1="591.5" x2="930.5" y2="561.8" stroke="#eaa06e" stroke-width="1.4"/>
<line x1="945.5" y1="592.0" x2="929.4" y2="562.4" stroke="#b15d2b" stroke-width="1.6"/>
<path d="M959.0,589.4 L973.5,560.2 L980.5,563.8 L965.4,592.6 Z" fill="#d9824a"/>
<line x1="960.7" y1="588.8" x2="974.7" y2="560.9" stroke="#f1b58c" stroke-width="1.7"/>
<line x1="961.9" y1="589.4" x2="976.1" y2="561.5" stroke="#e99c69" stroke-width="1.6"/>
<line x1="963.1" y1="590.0" x2="977.4" y2="562.2" stroke="#c56e38" stroke-width="1.6"/>
<line x1="964.2" y1="590.6" x2="978.6" y2="562.8" stroke="#eaa06e" stroke-width="1.4"/>
<line x1="965.2" y1="591.1" x2="979.6" y2="563.3" stroke="#b15d2b" stroke-width="1.6"/>
<path d="M958.7,591.9 L958.4,559.3 L950.4,559.5 L951.3,592.1 Z" fill="#d9824a"/>
<line x1="957.4" y1="590.7" x2="957.0" y2="559.4" stroke="#f1b58c" stroke-width="1.8"/>
<line x1="956.0" y1="590.7" x2="955.5" y2="559.4" stroke="#e99c69" stroke-width="1.6"/>
<line x1="954.6" y1="590.7" x2="954.0" y2="559.4" stroke="#c56e38" stroke-width="1.6"/>
<line x1="953.3" y1="590.7" x2="952.6" y2="559.4" stroke="#eaa06e" stroke-width="1.4"/>
<line x1="952.2" y1="590.7" x2="951.4" y2="559.5" stroke="#b15d2b" stroke-width="1.6"/>
<rect x="940" y="589" width="31.4" height="35" fill="url(#blH)"/>
<ellipse cx="955.7" cy="589" rx="15.7" ry="2.6" fill="#245f9c"/>
<path d="M951.6,589.3 L948.8,584.1 L942.4,587.5 L945.2,592.7 Z" fill="#d9824a"/>
<line x1="950.3" y1="589.7" x2="947.7" y2="584.7" stroke="#f1b58c" stroke-width="1.6"/>
<line x1="949.1" y1="590.3" x2="946.5" y2="585.3" stroke="#e99c69" stroke-width="1.5"/>
<line x1="947.9" y1="591.0" x2="945.3" y2="586.0" stroke="#c56e38" stroke-width="1.5"/>
<line x1="946.9" y1="591.6" x2="944.2" y2="586.6" stroke="#eaa06e" stroke-width="1.3"/>
<line x1="945.9" y1="592.1" x2="943.2" y2="587.1" stroke="#b15d2b" stroke-width="1.5"/>
<path d="M959.1,589.4 L961.5,584.4 L968.1,587.6 L965.5,592.6 Z" fill="#d9824a"/>
<line x1="960.3" y1="589.8" x2="962.7" y2="584.9" stroke="#f1b58c" stroke-width="1.6"/>
<line x1="961.5" y1="590.4" x2="963.9" y2="585.6" stroke="#e99c69" stroke-width="1.5"/>
<line x1="962.7" y1="591.0" x2="965.2" y2="586.2" stroke="#c56e38" stroke-width="1.5"/>
<line x1="963.8" y1="591.5" x2="966.3" y2="586.7" stroke="#eaa06e" stroke-width="1.3"/>
<line x1="964.8" y1="592.0" x2="967.3" y2="587.2" stroke="#b15d2b" stroke-width="1.5"/>
<path d="M958.7,591.3 L958.6,584.5 L951.2,584.7 L951.3,591.5 Z" fill="#d9824a"/>
<line x1="957.4" y1="591.1" x2="957.3" y2="584.6" stroke="#f1b58c" stroke-width="1.6"/>
<line x1="956.0" y1="591.1" x2="955.9" y2="584.6" stroke="#e99c69" stroke-width="1.5"/>
<line x1="954.6" y1="591.1" x2="954.5" y2="584.6" stroke="#c56e38" stroke-width="1.5"/>
<line x1="953.3" y1="591.2" x2="953.2" y2="584.6" stroke="#eaa06e" stroke-width="1.3"/>
<line x1="952.2" y1="591.2" x2="952.1" y2="584.6" stroke="#b15d2b" stroke-width="1.5"/>
<text x="996.0" y="581.0" font-size="18.6" font-weight="400" fill="#151515" text-anchor="start" textLength="93.0" lengthAdjust="spacingAndGlyphs" stroke="#151515" stroke-width="0.4">Concentrcity</text>
<text x="997.0" y="602.4" font-size="19.2" font-weight="400" fill="#3a3a3a" text-anchor="start" textLength="95.0" lengthAdjust="spacingAndGlyphs">aned setuon</text>
</svg>
</body></html>
